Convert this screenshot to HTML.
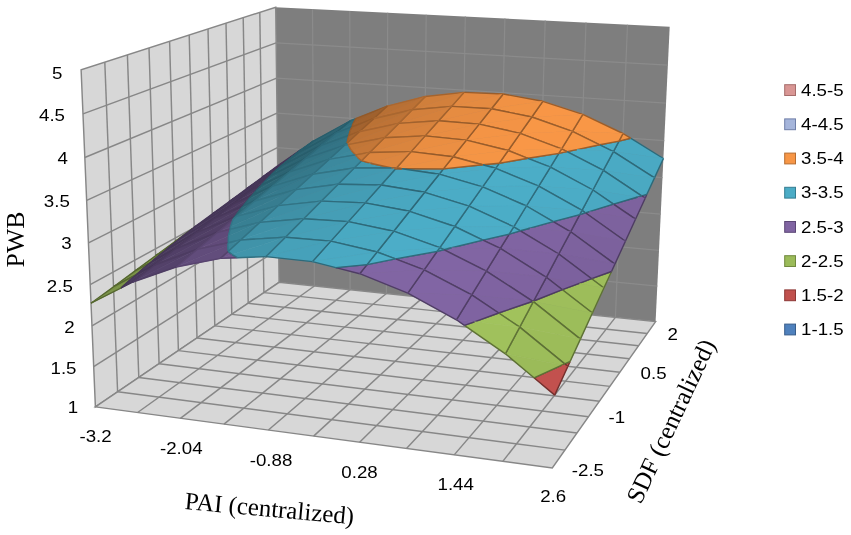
<!DOCTYPE html>
<html lang="en"><head><meta charset="utf-8"><title>PWB response surface</title>
<style>html,body{margin:0;padding:0;background:#fff}body{width:851px;height:535px;overflow:hidden}svg{display:block}</style></head>
<body>
<svg width="851" height="535" viewBox="0 0 851 535">
<rect width="851" height="535" fill="#fff"/>
<g id="backwall">
<polygon points="279.1,282.3 655.6,321.6 669.7,26.8 275.7,7.2" fill="#7e7e7e"/>
<line x1="314.4" y1="286.0" x2="312.5" y2="9.0" stroke="#8b8b8b" stroke-width="1.2"/>
<line x1="350.1" y1="289.7" x2="349.8" y2="10.9" stroke="#8b8b8b" stroke-width="1.2"/>
<line x1="386.4" y1="293.5" x2="387.7" y2="12.8" stroke="#8b8b8b" stroke-width="1.2"/>
<line x1="423.2" y1="297.4" x2="426.2" y2="14.7" stroke="#8b8b8b" stroke-width="1.2"/>
<line x1="460.6" y1="301.3" x2="465.3" y2="16.6" stroke="#8b8b8b" stroke-width="1.2"/>
<line x1="498.4" y1="305.2" x2="504.9" y2="18.6" stroke="#8b8b8b" stroke-width="1.2"/>
<line x1="536.8" y1="309.2" x2="545.2" y2="20.6" stroke="#8b8b8b" stroke-width="1.2"/>
<line x1="575.8" y1="313.3" x2="586.0" y2="22.6" stroke="#8b8b8b" stroke-width="1.2"/>
<line x1="615.4" y1="317.4" x2="627.5" y2="24.7" stroke="#8b8b8b" stroke-width="1.2"/>
<line x1="278.7" y1="249.2" x2="657.3" y2="286.2" stroke="#8b8b8b" stroke-width="1.2"/>
<line x1="278.3" y1="215.7" x2="659.0" y2="250.4" stroke="#8b8b8b" stroke-width="1.2"/>
<line x1="277.8" y1="181.9" x2="660.7" y2="214.2" stroke="#8b8b8b" stroke-width="1.2"/>
<line x1="277.4" y1="147.7" x2="662.5" y2="177.6" stroke="#8b8b8b" stroke-width="1.2"/>
<line x1="277.0" y1="113.1" x2="664.2" y2="140.6" stroke="#8b8b8b" stroke-width="1.2"/>
<line x1="276.6" y1="78.2" x2="666.0" y2="103.1" stroke="#8b8b8b" stroke-width="1.2"/>
<line x1="276.1" y1="42.9" x2="667.9" y2="65.2" stroke="#8b8b8b" stroke-width="1.2"/>
</g>
<g id="leftwall">
<polygon points="95.4,406.9 279.1,282.3 275.7,7.2 81.1,69.8" fill="#d7d7d7" stroke="#878787" stroke-width="1.45"/>
<line x1="117.6" y1="391.8" x2="104.8" y2="62.1" stroke="#878787" stroke-width="1.45"/>
<line x1="138.8" y1="377.5" x2="127.4" y2="54.9" stroke="#878787" stroke-width="1.45"/>
<line x1="159.1" y1="363.7" x2="149.0" y2="47.9" stroke="#878787" stroke-width="1.45"/>
<line x1="178.4" y1="350.6" x2="169.6" y2="41.3" stroke="#878787" stroke-width="1.45"/>
<line x1="197.0" y1="338.0" x2="189.2" y2="35.0" stroke="#878787" stroke-width="1.45"/>
<line x1="214.8" y1="325.9" x2="208.0" y2="29.0" stroke="#878787" stroke-width="1.45"/>
<line x1="231.8" y1="314.4" x2="226.0" y2="23.2" stroke="#878787" stroke-width="1.45"/>
<line x1="248.2" y1="303.3" x2="243.2" y2="17.6" stroke="#878787" stroke-width="1.45"/>
<line x1="263.9" y1="292.6" x2="259.8" y2="12.3" stroke="#878787" stroke-width="1.45"/>
<line x1="93.7" y1="366.7" x2="278.7" y2="249.2" stroke="#878787" stroke-width="1.45"/>
<line x1="92.0" y1="325.9" x2="278.3" y2="215.7" stroke="#878787" stroke-width="1.45"/>
<line x1="90.2" y1="284.6" x2="277.8" y2="181.9" stroke="#878787" stroke-width="1.45"/>
<line x1="88.5" y1="242.8" x2="277.4" y2="147.7" stroke="#878787" stroke-width="1.45"/>
<line x1="86.7" y1="200.4" x2="277.0" y2="113.1" stroke="#878787" stroke-width="1.45"/>
<line x1="84.8" y1="157.5" x2="276.6" y2="78.2" stroke="#878787" stroke-width="1.45"/>
<line x1="83.0" y1="113.9" x2="276.1" y2="42.9" stroke="#878787" stroke-width="1.45"/>
</g>
<g id="floor">
<polygon points="95.4,406.9 279.1,282.3 655.6,321.6 552.3,468.0" fill="#d7d7d7" stroke="#878787" stroke-width="1.45"/>
<line x1="137.6" y1="412.5" x2="314.4" y2="286.0" stroke="#878787" stroke-width="1.45"/>
<line x1="117.6" y1="391.8" x2="565.0" y2="450.1" stroke="#878787" stroke-width="1.45"/>
<line x1="180.4" y1="418.3" x2="350.1" y2="289.7" stroke="#878787" stroke-width="1.45"/>
<line x1="138.8" y1="377.5" x2="577.0" y2="433.0" stroke="#878787" stroke-width="1.45"/>
<line x1="224.0" y1="424.1" x2="386.4" y2="293.5" stroke="#878787" stroke-width="1.45"/>
<line x1="159.1" y1="363.7" x2="588.5" y2="416.7" stroke="#878787" stroke-width="1.45"/>
<line x1="268.4" y1="430.0" x2="423.2" y2="297.4" stroke="#878787" stroke-width="1.45"/>
<line x1="178.4" y1="350.6" x2="599.4" y2="401.2" stroke="#878787" stroke-width="1.45"/>
<line x1="313.6" y1="436.1" x2="460.6" y2="301.3" stroke="#878787" stroke-width="1.45"/>
<line x1="197.0" y1="338.0" x2="609.9" y2="386.4" stroke="#878787" stroke-width="1.45"/>
<line x1="359.6" y1="442.2" x2="498.4" y2="305.2" stroke="#878787" stroke-width="1.45"/>
<line x1="214.8" y1="325.9" x2="619.8" y2="372.3" stroke="#878787" stroke-width="1.45"/>
<line x1="406.5" y1="448.5" x2="536.8" y2="309.2" stroke="#878787" stroke-width="1.45"/>
<line x1="231.8" y1="314.4" x2="629.4" y2="358.8" stroke="#878787" stroke-width="1.45"/>
<line x1="454.2" y1="454.9" x2="575.8" y2="313.3" stroke="#878787" stroke-width="1.45"/>
<line x1="248.2" y1="303.3" x2="638.5" y2="345.8" stroke="#878787" stroke-width="1.45"/>
<line x1="502.8" y1="461.4" x2="615.4" y2="317.4" stroke="#878787" stroke-width="1.45"/>
<line x1="263.9" y1="292.6" x2="647.2" y2="333.5" stroke="#878787" stroke-width="1.45"/>
</g>
<g id="surface" stroke-linejoin="round">
<polygon points="262.2,177.3 297.9,152.0 301.1,149.5 277.6,165.9" fill="#4a3a5e" stroke="#4a3a5e" stroke-width="0.6"/>
<line x1="297.9" y1="152.0" x2="301.1" y2="149.5" stroke="#453657" stroke-width="1.4"/>
<line x1="301.1" y1="149.5" x2="277.6" y2="165.9" stroke="#453657" stroke-width="1.4"/>
<line x1="277.6" y1="165.9" x2="262.2" y2="177.3" stroke="#453657" stroke-width="1.4"/>
<polygon points="297.9,152.0 313.4,141.0 301.1,149.5" fill="#2c6473" stroke="#2c6473" stroke-width="0.6"/>
<line x1="313.4" y1="141.0" x2="301.1" y2="149.5" stroke="#285d6b" stroke-width="1.4"/>
<line x1="301.1" y1="149.5" x2="297.9" y2="152.0" stroke="#285d6b" stroke-width="1.4"/>
<polygon points="262.2,177.3 290.9,157.8 297.9,152.0" fill="#4a3a5e" stroke="#4a3a5e" stroke-width="0.6"/>
<line x1="262.2" y1="177.3" x2="290.9" y2="157.8" stroke="#453657" stroke-width="1.4"/>
<line x1="290.9" y1="157.8" x2="297.9" y2="152.0" stroke="#453657" stroke-width="1.4"/>
<polygon points="290.9,157.8 298.5,152.7 313.4,141.0 297.9,152.0" fill="#2c6473" stroke="#2c6473" stroke-width="0.6"/>
<line x1="290.9" y1="157.8" x2="298.5" y2="152.7" stroke="#285d6b" stroke-width="1.4"/>
<line x1="298.5" y1="152.7" x2="313.4" y2="141.0" stroke="#285d6b" stroke-width="1.4"/>
<line x1="297.9" y1="152.0" x2="290.9" y2="157.8" stroke="#285d6b" stroke-width="1.4"/>
<polygon points="298.5,152.7 350.0,121.0 313.4,141.0" fill="#2c6473" stroke="#2c6473" stroke-width="0.6"/>
<line x1="350.0" y1="121.0" x2="313.4" y2="141.0" stroke="#285d6b" stroke-width="1.4"/>
<line x1="313.4" y1="141.0" x2="298.5" y2="152.7" stroke="#285d6b" stroke-width="1.4"/>
<polygon points="246.2,189.1 288.9,159.4 290.9,157.8 262.2,177.3" fill="#4a3a5e" stroke="#4a3a5e" stroke-width="0.6"/>
<line x1="288.9" y1="159.4" x2="290.9" y2="157.8" stroke="#453657" stroke-width="1.4"/>
<line x1="290.9" y1="157.8" x2="262.2" y2="177.3" stroke="#453657" stroke-width="1.4"/>
<line x1="262.2" y1="177.3" x2="246.2" y2="189.1" stroke="#453657" stroke-width="1.4"/>
<polygon points="288.9,159.4 298.5,152.7 290.9,157.8" fill="#2c6473" stroke="#2c6473" stroke-width="0.6"/>
<line x1="298.5" y1="152.7" x2="290.9" y2="157.8" stroke="#285d6b" stroke-width="1.4"/>
<line x1="290.9" y1="157.8" x2="288.9" y2="159.4" stroke="#285d6b" stroke-width="1.4"/>
<polygon points="335.6,133.1 352.8,124.1 355.7,118.7 350.0,121.0" fill="#306e7e" stroke="#306e7e" stroke-width="0.6"/>
<line x1="352.8" y1="124.1" x2="355.7" y2="118.7" stroke="#2c6675" stroke-width="1.4"/>
<line x1="355.7" y1="118.7" x2="350.0" y2="121.0" stroke="#2c6675" stroke-width="1.4"/>
<line x1="350.0" y1="121.0" x2="335.6" y2="133.1" stroke="#2c6675" stroke-width="1.4"/>
<polygon points="352.8,124.1 387.3,106.1 355.7,118.7" fill="#9d602d" stroke="#9d602d" stroke-width="0.6"/>
<line x1="387.3" y1="106.1" x2="355.7" y2="118.7" stroke="#925929" stroke-width="1.4"/>
<line x1="355.7" y1="118.7" x2="352.8" y2="124.1" stroke="#925929" stroke-width="1.4"/>
<polygon points="298.5,152.7 335.6,133.1 350.0,121.0" fill="#2c6473" stroke="#2c6473" stroke-width="0.6"/>
<line x1="298.5" y1="152.7" x2="335.6" y2="133.1" stroke="#285d6b" stroke-width="1.4"/>
<line x1="335.6" y1="133.1" x2="350.0" y2="121.0" stroke="#285d6b" stroke-width="1.4"/>
<polygon points="373.6,118.7 425.3,96.5 387.3,106.1" fill="#b87034" stroke="#b87034" stroke-width="0.6"/>
<line x1="425.3" y1="96.5" x2="387.3" y2="106.1" stroke="#aa6730" stroke-width="1.4"/>
<line x1="387.3" y1="106.1" x2="373.6" y2="118.7" stroke="#aa6730" stroke-width="1.4"/>
<polygon points="246.2,189.1 280.5,166.4 288.9,159.4" fill="#4a3a5e" stroke="#4a3a5e" stroke-width="0.6"/>
<line x1="246.2" y1="189.1" x2="280.5" y2="166.4" stroke="#453657" stroke-width="1.4"/>
<line x1="280.5" y1="166.4" x2="288.9" y2="159.4" stroke="#453657" stroke-width="1.4"/>
<polygon points="280.5,166.4 283.0,164.8 298.5,152.7 288.9,159.4" fill="#2c6473" stroke="#2c6473" stroke-width="0.6"/>
<line x1="280.5" y1="166.4" x2="283.0" y2="164.8" stroke="#285d6b" stroke-width="1.4"/>
<line x1="283.0" y1="164.8" x2="298.5" y2="152.7" stroke="#285d6b" stroke-width="1.4"/>
<line x1="288.9" y1="159.4" x2="280.5" y2="166.4" stroke="#285d6b" stroke-width="1.4"/>
<polygon points="335.6,133.1 352.0,126.9 352.8,124.1" fill="#317081" stroke="#317081" stroke-width="0.6"/>
<line x1="335.6" y1="133.1" x2="352.0" y2="126.9" stroke="#2d6878" stroke-width="1.4"/>
<line x1="352.0" y1="126.9" x2="352.8" y2="124.1" stroke="#2d6878" stroke-width="1.4"/>
<polygon points="352.0,126.9 373.6,118.7 387.3,106.1 352.8,124.1" fill="#a0612d" stroke="#a0612d" stroke-width="0.6"/>
<line x1="352.0" y1="126.9" x2="373.6" y2="118.7" stroke="#955b2a" stroke-width="1.4"/>
<line x1="373.6" y1="118.7" x2="387.3" y2="106.1" stroke="#955b2a" stroke-width="1.4"/>
<line x1="352.8" y1="124.1" x2="352.0" y2="126.9" stroke="#955b2a" stroke-width="1.4"/>
<polygon points="283.0,164.8 335.6,133.1 298.5,152.7" fill="#2c6473" stroke="#2c6473" stroke-width="0.6"/>
<line x1="335.6" y1="133.1" x2="298.5" y2="152.7" stroke="#285d6b" stroke-width="1.4"/>
<line x1="298.5" y1="152.7" x2="283.0" y2="164.8" stroke="#285d6b" stroke-width="1.4"/>
<polygon points="412.2,109.7 464.0,92.4 425.3,96.5" fill="#d07f3b" stroke="#d07f3b" stroke-width="0.6"/>
<line x1="464.0" y1="92.4" x2="425.3" y2="96.5" stroke="#a3632e" stroke-width="1.4"/>
<line x1="425.3" y1="96.5" x2="412.2" y2="109.7" stroke="#a3632e" stroke-width="1.4"/>
<polygon points="229.6,201.3 279.8,167.0 280.5,166.4 246.2,189.1" fill="#4a3a5e" stroke="#4a3a5e" stroke-width="0.6"/>
<line x1="279.8" y1="167.0" x2="280.5" y2="166.4" stroke="#453657" stroke-width="1.4"/>
<line x1="280.5" y1="166.4" x2="246.2" y2="189.1" stroke="#453657" stroke-width="1.4"/>
<line x1="246.2" y1="189.1" x2="229.6" y2="201.3" stroke="#453657" stroke-width="1.4"/>
<polygon points="279.8,167.0 283.0,164.8 280.5,166.4" fill="#2c6473" stroke="#2c6473" stroke-width="0.6"/>
<line x1="283.0" y1="164.8" x2="280.5" y2="166.4" stroke="#285d6b" stroke-width="1.4"/>
<line x1="280.5" y1="166.4" x2="279.8" y2="167.0" stroke="#285d6b" stroke-width="1.4"/>
<polygon points="373.6,118.7 412.2,109.7 425.3,96.5" fill="#bb7135" stroke="#bb7135" stroke-width="0.6"/>
<line x1="373.6" y1="118.7" x2="412.2" y2="109.7" stroke="#a96730" stroke-width="1.4"/>
<line x1="412.2" y1="109.7" x2="425.3" y2="96.5" stroke="#a96730" stroke-width="1.4"/>
<polygon points="283.0,164.8 320.8,145.6 335.6,133.1" fill="#2c6473" stroke="#2c6473" stroke-width="0.6"/>
<line x1="283.0" y1="164.8" x2="320.8" y2="145.6" stroke="#285d6b" stroke-width="1.4"/>
<line x1="320.8" y1="145.6" x2="335.6" y2="133.1" stroke="#285d6b" stroke-width="1.4"/>
<polygon points="320.8,145.6 350.2,130.6 352.0,126.9 335.6,133.1" fill="#317081" stroke="#317081" stroke-width="0.6"/>
<line x1="350.2" y1="130.6" x2="352.0" y2="126.9" stroke="#2d6878" stroke-width="1.4"/>
<line x1="352.0" y1="126.9" x2="335.6" y2="133.1" stroke="#2d6878" stroke-width="1.4"/>
<line x1="335.6" y1="133.1" x2="320.8" y2="145.6" stroke="#2d6878" stroke-width="1.4"/>
<polygon points="350.2,130.6 373.6,118.7 352.0,126.9" fill="#a1622e" stroke="#a1622e" stroke-width="0.6"/>
<line x1="373.6" y1="118.7" x2="352.0" y2="126.9" stroke="#955b2a" stroke-width="1.4"/>
<line x1="352.0" y1="126.9" x2="350.2" y2="130.6" stroke="#955b2a" stroke-width="1.4"/>
<polygon points="451.6,106.4 503.2,94.0 464.0,92.4" fill="#e48a41" stroke="#e48a41" stroke-width="0.6"/>
<line x1="503.2" y1="94.0" x2="464.0" y2="92.4" stroke="#995d2b" stroke-width="1.4"/>
<line x1="464.0" y1="92.4" x2="451.6" y2="106.4" stroke="#995d2b" stroke-width="1.4"/>
<polygon points="412.2,109.7 451.6,106.4 464.0,92.4" fill="#d2803c" stroke="#d2803c" stroke-width="0.6"/>
<line x1="412.2" y1="109.7" x2="451.6" y2="106.4" stroke="#a3632e" stroke-width="1.4"/>
<line x1="451.6" y1="106.4" x2="464.0" y2="92.4" stroke="#a3632e" stroke-width="1.4"/>
<polygon points="229.6,201.3 266.9,177.3 275.4,170.7 279.8,167.0" fill="#4a3a5e" stroke="#4a3a5e" stroke-width="0.6"/>
<line x1="229.6" y1="201.3" x2="266.9" y2="177.3" stroke="#453657" stroke-width="1.4"/>
<line x1="266.9" y1="177.3" x2="275.4" y2="170.7" stroke="#453657" stroke-width="1.4"/>
<line x1="275.4" y1="170.7" x2="279.8" y2="167.0" stroke="#453657" stroke-width="1.4"/>
<polygon points="275.4,170.7 283.0,164.8 279.8,167.0" fill="#2c6473" stroke="#2c6473" stroke-width="0.6"/>
<line x1="275.4" y1="170.7" x2="283.0" y2="164.8" stroke="#285d6b" stroke-width="1.4"/>
<line x1="279.8" y1="167.0" x2="275.4" y2="170.7" stroke="#285d6b" stroke-width="1.4"/>
<polygon points="359.3,131.7 412.2,109.7 373.6,118.7" fill="#bb7235" stroke="#bb7235" stroke-width="0.6"/>
<line x1="412.2" y1="109.7" x2="373.6" y2="118.7" stroke="#a96730" stroke-width="1.4"/>
<line x1="373.6" y1="118.7" x2="359.3" y2="131.7" stroke="#a96730" stroke-width="1.4"/>
<polygon points="491.4,108.7 542.8,101.3 503.2,94.0" fill="#f19244" stroke="#f19244" stroke-width="0.6"/>
<line x1="542.8" y1="101.3" x2="503.2" y2="94.0" stroke="#955b2a" stroke-width="1.4"/>
<line x1="503.2" y1="94.0" x2="491.4" y2="108.7" stroke="#955b2a" stroke-width="1.4"/>
<polygon points="266.9,177.3 271.2,174.8 275.4,170.7" fill="#4a3a5e" stroke="#4a3a5e" stroke-width="0.6"/>
<line x1="271.2" y1="174.8" x2="275.4" y2="170.7" stroke="#453657" stroke-width="1.4"/>
<line x1="275.4" y1="170.7" x2="266.9" y2="177.3" stroke="#453657" stroke-width="1.4"/>
<polygon points="271.2,174.8 320.8,145.6 283.0,164.8 275.4,170.7" fill="#2c6473" stroke="#2c6473" stroke-width="0.6"/>
<line x1="320.8" y1="145.6" x2="283.0" y2="164.8" stroke="#285d6b" stroke-width="1.4"/>
<line x1="283.0" y1="164.8" x2="275.4" y2="170.7" stroke="#285d6b" stroke-width="1.4"/>
<line x1="275.4" y1="170.7" x2="271.2" y2="174.8" stroke="#285d6b" stroke-width="1.4"/>
<polygon points="320.8,145.6 348.9,135.4 350.2,130.6" fill="#327283" stroke="#327283" stroke-width="0.6"/>
<line x1="320.8" y1="145.6" x2="348.9" y2="135.4" stroke="#2e6a7a" stroke-width="1.4"/>
<line x1="348.9" y1="135.4" x2="350.2" y2="130.6" stroke="#2e6a7a" stroke-width="1.4"/>
<polygon points="348.9,135.4 359.3,131.7 373.6,118.7 350.2,130.6" fill="#a4632e" stroke="#a4632e" stroke-width="0.6"/>
<line x1="348.9" y1="135.4" x2="359.3" y2="131.7" stroke="#985c2b" stroke-width="1.4"/>
<line x1="359.3" y1="131.7" x2="373.6" y2="118.7" stroke="#985c2b" stroke-width="1.4"/>
<line x1="350.2" y1="130.6" x2="348.9" y2="135.4" stroke="#985c2b" stroke-width="1.4"/>
<polygon points="451.6,106.4 491.4,108.7 503.2,94.0" fill="#e58b41" stroke="#e58b41" stroke-width="0.6"/>
<line x1="451.6" y1="106.4" x2="491.4" y2="108.7" stroke="#995d2b" stroke-width="1.4"/>
<line x1="491.4" y1="108.7" x2="503.2" y2="94.0" stroke="#995d2b" stroke-width="1.4"/>
<polygon points="531.8,117.0 582.8,114.4 542.8,101.3" fill="#f89646" stroke="#f89646" stroke-width="0.6"/>
<line x1="582.8" y1="114.4" x2="542.8" y2="101.3" stroke="#9a5d2c" stroke-width="1.4"/>
<line x1="542.8" y1="101.3" x2="531.8" y2="117.0" stroke="#9a5d2c" stroke-width="1.4"/>
<polygon points="398.6,123.4 451.6,106.4 412.2,109.7" fill="#d3803c" stroke="#d3803c" stroke-width="0.6"/>
<line x1="451.6" y1="106.4" x2="412.2" y2="109.7" stroke="#a2632e" stroke-width="1.4"/>
<line x1="412.2" y1="109.7" x2="398.6" y2="123.4" stroke="#a2632e" stroke-width="1.4"/>
<polygon points="212.2,214.1 266.9,177.3 229.6,201.3" fill="#4a3a5e" stroke="#4a3a5e" stroke-width="0.6"/>
<line x1="266.9" y1="177.3" x2="229.6" y2="201.3" stroke="#453657" stroke-width="1.4"/>
<line x1="229.6" y1="201.3" x2="212.2" y2="214.1" stroke="#453657" stroke-width="1.4"/>
<polygon points="572.4,131.3 623.0,133.5 582.8,114.4" fill="#f99746" stroke="#f99746" stroke-width="0.6"/>
<line x1="623.0" y1="133.5" x2="582.8" y2="114.4" stroke="#9a5e2c" stroke-width="1.4"/>
<line x1="582.8" y1="114.4" x2="572.4" y2="131.3" stroke="#9a5e2c" stroke-width="1.4"/>
<polygon points="491.4,108.7 531.8,117.0 542.8,101.3" fill="#f19344" stroke="#f19344" stroke-width="0.6"/>
<line x1="491.4" y1="108.7" x2="531.8" y2="117.0" stroke="#965b2a" stroke-width="1.4"/>
<line x1="531.8" y1="117.0" x2="542.8" y2="101.3" stroke="#965b2a" stroke-width="1.4"/>
<polygon points="359.3,131.7 398.6,123.4 412.2,109.7" fill="#be7336" stroke="#be7336" stroke-width="0.6"/>
<line x1="359.3" y1="131.7" x2="398.6" y2="123.4" stroke="#a96730" stroke-width="1.4"/>
<line x1="398.6" y1="123.4" x2="412.2" y2="109.7" stroke="#a96730" stroke-width="1.4"/>
<polygon points="266.9,177.3 270.6,175.6 271.2,174.8" fill="#4a3a5e" stroke="#4a3a5e" stroke-width="0.6"/>
<line x1="266.9" y1="177.3" x2="270.6" y2="175.6" stroke="#453657" stroke-width="1.4"/>
<line x1="270.6" y1="175.6" x2="271.2" y2="174.8" stroke="#453657" stroke-width="1.4"/>
<polygon points="270.6,175.6 305.3,158.6 320.8,145.6 271.2,174.8" fill="#2c6473" stroke="#2c6473" stroke-width="0.6"/>
<line x1="270.6" y1="175.6" x2="305.3" y2="158.6" stroke="#285d6b" stroke-width="1.4"/>
<line x1="305.3" y1="158.6" x2="320.8" y2="145.6" stroke="#285d6b" stroke-width="1.4"/>
<line x1="271.2" y1="174.8" x2="270.6" y2="175.6" stroke="#285d6b" stroke-width="1.4"/>
<polygon points="305.3,158.6 348.2,137.3 348.9,135.4 320.8,145.6" fill="#327284" stroke="#327284" stroke-width="0.6"/>
<line x1="348.2" y1="137.3" x2="348.9" y2="135.4" stroke="#2e6a7a" stroke-width="1.4"/>
<line x1="348.9" y1="135.4" x2="320.8" y2="145.6" stroke="#2e6a7a" stroke-width="1.4"/>
<line x1="320.8" y1="145.6" x2="305.3" y2="158.6" stroke="#2e6a7a" stroke-width="1.4"/>
<polygon points="348.2,137.3 359.3,131.7 348.9,135.4" fill="#a4642f" stroke="#a4642f" stroke-width="0.6"/>
<line x1="359.3" y1="131.7" x2="348.9" y2="135.4" stroke="#995d2b" stroke-width="1.4"/>
<line x1="348.9" y1="135.4" x2="348.2" y2="137.3" stroke="#995d2b" stroke-width="1.4"/>
<polygon points="613.4,151.6 663.4,158.5 630.6,138.2 619.0,141.1" fill="#4aaac4" stroke="#4aaac4" stroke-width="0.6"/>
<line x1="663.4" y1="158.5" x2="630.6" y2="138.2" stroke="#2e6a7a" stroke-width="1.4"/>
<line x1="630.6" y1="138.2" x2="619.0" y2="141.1" stroke="#2e6a7a" stroke-width="1.4"/>
<line x1="619.0" y1="141.1" x2="613.4" y2="151.6" stroke="#2e6a7a" stroke-width="1.4"/>
<polygon points="630.6,138.2 623.0,133.5 619.0,141.1" fill="#f59545" stroke="#f59545" stroke-width="0.6"/>
<line x1="630.6" y1="138.2" x2="623.0" y2="133.5" stroke="#985c2b" stroke-width="1.4"/>
<line x1="623.0" y1="133.5" x2="619.0" y2="141.1" stroke="#985c2b" stroke-width="1.4"/>
<line x1="619.0" y1="141.1" x2="630.6" y2="138.2" stroke="#985c2b" stroke-width="1.4"/>
<polygon points="531.8,117.0 572.4,131.3 582.8,114.4" fill="#f79646" stroke="#f79646" stroke-width="0.6"/>
<line x1="531.8" y1="117.0" x2="572.4" y2="131.3" stroke="#995d2b" stroke-width="1.4"/>
<line x1="572.4" y1="131.3" x2="582.8" y2="114.4" stroke="#995d2b" stroke-width="1.4"/>
<polygon points="438.6,120.8 491.4,108.7 451.6,106.4" fill="#e68c41" stroke="#e68c41" stroke-width="0.6"/>
<line x1="491.4" y1="108.7" x2="451.6" y2="106.4" stroke="#985c2b" stroke-width="1.4"/>
<line x1="451.6" y1="106.4" x2="438.6" y2="120.8" stroke="#985c2b" stroke-width="1.4"/>
<polygon points="599.8,144.8 613.4,151.6 619.0,141.1" fill="#4bacc6" stroke="#4bacc6" stroke-width="0.6"/>
<line x1="599.8" y1="144.8" x2="613.4" y2="151.6" stroke="#2f6b7b" stroke-width="1.4"/>
<line x1="613.4" y1="151.6" x2="619.0" y2="141.1" stroke="#2f6b7b" stroke-width="1.4"/>
<line x1="619.0" y1="141.1" x2="599.8" y2="144.8" stroke="#2f6b7b" stroke-width="1.4"/>
<polygon points="572.4,131.3 599.8,144.8 619.0,141.1 623.0,133.5" fill="#f79646" stroke="#f79646" stroke-width="0.6"/>
<line x1="572.4" y1="131.3" x2="599.8" y2="144.8" stroke="#995d2b" stroke-width="1.4"/>
<line x1="599.8" y1="144.8" x2="619.0" y2="141.1" stroke="#995d2b" stroke-width="1.4"/>
<line x1="619.0" y1="141.1" x2="623.0" y2="133.5" stroke="#995d2b" stroke-width="1.4"/>
<polygon points="398.6,123.4 438.6,120.8 451.6,106.4" fill="#d5813c" stroke="#d5813c" stroke-width="0.6"/>
<line x1="398.6" y1="123.4" x2="438.6" y2="120.8" stroke="#a1622e" stroke-width="1.4"/>
<line x1="438.6" y1="120.8" x2="451.6" y2="106.4" stroke="#a1622e" stroke-width="1.4"/>
<polygon points="613.4,151.6 654.5,177.9 663.4,158.5" fill="#4aa9c3" stroke="#4aa9c3" stroke-width="0.6"/>
<line x1="613.4" y1="151.6" x2="654.5" y2="177.9" stroke="#2e6979" stroke-width="1.4"/>
<line x1="654.5" y1="177.9" x2="663.4" y2="158.5" stroke="#2e6979" stroke-width="1.4"/>
<polygon points="212.2,214.1 250.2,190.4 266.9,177.3" fill="#4a3a5e" stroke="#4a3a5e" stroke-width="0.6"/>
<line x1="212.2" y1="214.1" x2="250.2" y2="190.4" stroke="#453657" stroke-width="1.4"/>
<line x1="250.2" y1="190.4" x2="266.9" y2="177.3" stroke="#453657" stroke-width="1.4"/>
<polygon points="344.4,145.3 347.6,144.0 347.1,142.9" fill="#3a8599" stroke="#3a8599" stroke-width="0.6"/>
<line x1="347.6" y1="144.0" x2="347.1" y2="142.9" stroke="#337687" stroke-width="1.4"/>
<line x1="347.1" y1="142.9" x2="344.4" y2="145.3" stroke="#337687" stroke-width="1.4"/>
<polygon points="347.6,144.0 398.6,123.4 359.3,131.7 347.1,142.9" fill="#bf7436" stroke="#bf7436" stroke-width="0.6"/>
<line x1="398.6" y1="123.4" x2="359.3" y2="131.7" stroke="#a96630" stroke-width="1.4"/>
<line x1="359.3" y1="131.7" x2="347.1" y2="142.9" stroke="#a96630" stroke-width="1.4"/>
<line x1="347.1" y1="142.9" x2="347.6" y2="144.0" stroke="#a96630" stroke-width="1.4"/>
<polygon points="250.2,190.4 263.4,182.8 270.6,175.6 266.9,177.3" fill="#4a3a5e" stroke="#4a3a5e" stroke-width="0.6"/>
<line x1="263.4" y1="182.8" x2="270.6" y2="175.6" stroke="#453657" stroke-width="1.4"/>
<line x1="270.6" y1="175.6" x2="266.9" y2="177.3" stroke="#453657" stroke-width="1.4"/>
<line x1="266.9" y1="177.3" x2="250.2" y2="190.4" stroke="#453657" stroke-width="1.4"/>
<polygon points="263.4,182.8 305.3,158.6 270.6,175.6" fill="#2c6473" stroke="#2c6473" stroke-width="0.6"/>
<line x1="305.3" y1="158.6" x2="270.6" y2="175.6" stroke="#285d6b" stroke-width="1.4"/>
<line x1="270.6" y1="175.6" x2="263.4" y2="182.8" stroke="#285d6b" stroke-width="1.4"/>
<polygon points="305.3,158.6 344.4,145.3 347.1,142.9 348.2,137.3" fill="#337486" stroke="#337486" stroke-width="0.6"/>
<line x1="305.3" y1="158.6" x2="344.4" y2="145.3" stroke="#2f6c7c" stroke-width="1.4"/>
<line x1="344.4" y1="145.3" x2="347.1" y2="142.9" stroke="#2f6c7c" stroke-width="1.4"/>
<line x1="347.1" y1="142.9" x2="348.2" y2="137.3" stroke="#2f6c7c" stroke-width="1.4"/>
<polygon points="347.1,142.9 359.3,131.7 348.2,137.3" fill="#a7652f" stroke="#a7652f" stroke-width="0.6"/>
<line x1="347.1" y1="142.9" x2="359.3" y2="131.7" stroke="#9b5e2c" stroke-width="1.4"/>
<line x1="348.2" y1="137.3" x2="347.1" y2="142.9" stroke="#9b5e2c" stroke-width="1.4"/>
<polygon points="479.2,124.1 531.8,117.0 491.4,108.7" fill="#f29345" stroke="#f29345" stroke-width="0.6"/>
<line x1="531.8" y1="117.0" x2="491.4" y2="108.7" stroke="#965b2b" stroke-width="1.4"/>
<line x1="491.4" y1="108.7" x2="479.2" y2="124.1" stroke="#965b2b" stroke-width="1.4"/>
<polygon points="438.6,120.8 479.2,124.1 491.4,108.7" fill="#e78c41" stroke="#e78c41" stroke-width="0.6"/>
<line x1="438.6" y1="120.8" x2="479.2" y2="124.1" stroke="#975c2b" stroke-width="1.4"/>
<line x1="479.2" y1="124.1" x2="491.4" y2="108.7" stroke="#975c2b" stroke-width="1.4"/>
<polygon points="520.2,133.4 572.4,131.3 531.8,117.0" fill="#f89746" stroke="#f89746" stroke-width="0.6"/>
<line x1="572.4" y1="131.3" x2="531.8" y2="117.0" stroke="#9a5e2c" stroke-width="1.4"/>
<line x1="531.8" y1="117.0" x2="520.2" y2="133.4" stroke="#9a5e2c" stroke-width="1.4"/>
<polygon points="194.1,227.4 250.2,190.4 212.2,214.1" fill="#4a3a5e" stroke="#4a3a5e" stroke-width="0.6"/>
<line x1="250.2" y1="190.4" x2="212.2" y2="214.1" stroke="#453657" stroke-width="1.4"/>
<line x1="212.2" y1="214.1" x2="194.1" y2="227.4" stroke="#453657" stroke-width="1.4"/>
<polygon points="384.4,137.7 438.6,120.8 398.6,123.4" fill="#d6823d" stroke="#d6823d" stroke-width="0.6"/>
<line x1="438.6" y1="120.8" x2="398.6" y2="123.4" stroke="#a1622e" stroke-width="1.4"/>
<line x1="398.6" y1="123.4" x2="384.4" y2="137.7" stroke="#a1622e" stroke-width="1.4"/>
<polygon points="576.8,149.6 613.4,151.6 599.8,144.8" fill="#4badc7" stroke="#4badc7" stroke-width="0.6"/>
<line x1="613.4" y1="151.6" x2="599.8" y2="144.8" stroke="#2f6b7b" stroke-width="1.4"/>
<line x1="599.8" y1="144.8" x2="576.8" y2="149.6" stroke="#2f6b7b" stroke-width="1.4"/>
<polygon points="561.6,148.8 576.8,149.6 599.8,144.8 572.4,131.3" fill="#f89746" stroke="#f89746" stroke-width="0.6"/>
<line x1="576.8" y1="149.6" x2="599.8" y2="144.8" stroke="#9a5e2c" stroke-width="1.4"/>
<line x1="599.8" y1="144.8" x2="572.4" y2="131.3" stroke="#9a5e2c" stroke-width="1.4"/>
<line x1="572.4" y1="131.3" x2="561.6" y2="148.8" stroke="#9a5e2c" stroke-width="1.4"/>
<polygon points="479.2,124.1 520.2,133.4 531.8,117.0" fill="#f39345" stroke="#f39345" stroke-width="0.6"/>
<line x1="479.2" y1="124.1" x2="520.2" y2="133.4" stroke="#965b2b" stroke-width="1.4"/>
<line x1="520.2" y1="133.4" x2="531.8" y2="117.0" stroke="#965b2b" stroke-width="1.4"/>
<polygon points="344.4,145.3 348.1,144.6 347.6,144.0" fill="#3b869b" stroke="#3b869b" stroke-width="0.6"/>
<line x1="344.4" y1="145.3" x2="348.1" y2="144.6" stroke="#337587" stroke-width="1.4"/>
<line x1="348.1" y1="144.6" x2="347.6" y2="144.0" stroke="#337587" stroke-width="1.4"/>
<polygon points="348.1,144.6 384.4,137.7 398.6,123.4 347.6,144.0" fill="#c17537" stroke="#c17537" stroke-width="0.6"/>
<line x1="348.1" y1="144.6" x2="384.4" y2="137.7" stroke="#a86630" stroke-width="1.4"/>
<line x1="384.4" y1="137.7" x2="398.6" y2="123.4" stroke="#a86630" stroke-width="1.4"/>
<line x1="347.6" y1="144.0" x2="348.1" y2="144.6" stroke="#a86630" stroke-width="1.4"/>
<polygon points="250.2,190.4 261.4,185.2 263.4,182.8" fill="#4a3a5e" stroke="#4a3a5e" stroke-width="0.6"/>
<line x1="250.2" y1="190.4" x2="261.4" y2="185.2" stroke="#453657" stroke-width="1.4"/>
<line x1="261.4" y1="185.2" x2="263.4" y2="182.8" stroke="#453657" stroke-width="1.4"/>
<polygon points="261.4,185.2 289.1,172.1 305.3,158.6 263.4,182.8" fill="#2c6473" stroke="#2c6473" stroke-width="0.6"/>
<line x1="261.4" y1="185.2" x2="289.1" y2="172.1" stroke="#285d6b" stroke-width="1.4"/>
<line x1="289.1" y1="172.1" x2="305.3" y2="158.6" stroke="#285d6b" stroke-width="1.4"/>
<line x1="263.4" y1="182.8" x2="261.4" y2="185.2" stroke="#285d6b" stroke-width="1.4"/>
<polygon points="289.1,172.1 344.4,145.3 305.3,158.6" fill="#337586" stroke="#337586" stroke-width="0.6"/>
<line x1="344.4" y1="145.3" x2="305.3" y2="158.6" stroke="#2f6c7d" stroke-width="1.4"/>
<line x1="305.3" y1="158.6" x2="289.1" y2="172.1" stroke="#2f6c7d" stroke-width="1.4"/>
<polygon points="603.3,170.4 654.5,177.9 613.4,151.6" fill="#4aaac4" stroke="#4aaac4" stroke-width="0.6"/>
<line x1="654.5" y1="177.9" x2="613.4" y2="151.6" stroke="#2e6979" stroke-width="1.4"/>
<line x1="613.4" y1="151.6" x2="603.3" y2="170.4" stroke="#2e6979" stroke-width="1.4"/>
<polygon points="520.2,133.4 561.6,148.8 572.4,131.3" fill="#f89646" stroke="#f89646" stroke-width="0.6"/>
<line x1="520.2" y1="133.4" x2="561.6" y2="148.8" stroke="#9a5d2c" stroke-width="1.4"/>
<line x1="561.6" y1="148.8" x2="572.4" y2="131.3" stroke="#9a5d2c" stroke-width="1.4"/>
<polygon points="425.1,135.9 479.2,124.1 438.6,120.8" fill="#e88d42" stroke="#e88d42" stroke-width="0.6"/>
<line x1="479.2" y1="124.1" x2="438.6" y2="120.8" stroke="#975c2b" stroke-width="1.4"/>
<line x1="438.6" y1="120.8" x2="425.1" y2="135.9" stroke="#975c2b" stroke-width="1.4"/>
<polygon points="567.0,151.6 603.3,170.4 613.4,151.6 576.8,149.6" fill="#4bacc6" stroke="#4bacc6" stroke-width="0.6"/>
<line x1="567.0" y1="151.6" x2="603.3" y2="170.4" stroke="#2f6b7b" stroke-width="1.4"/>
<line x1="603.3" y1="170.4" x2="613.4" y2="151.6" stroke="#2f6b7b" stroke-width="1.4"/>
<line x1="576.8" y1="149.6" x2="567.0" y2="151.6" stroke="#2f6b7b" stroke-width="1.4"/>
<polygon points="561.6,148.8 567.0,151.6 576.8,149.6" fill="#f79646" stroke="#f79646" stroke-width="0.6"/>
<line x1="561.6" y1="148.8" x2="567.0" y2="151.6" stroke="#995d2b" stroke-width="1.4"/>
<line x1="567.0" y1="151.6" x2="576.8" y2="149.6" stroke="#995d2b" stroke-width="1.4"/>
<polygon points="384.4,137.7 425.1,135.9 438.6,120.8" fill="#d8833d" stroke="#d8833d" stroke-width="0.6"/>
<line x1="384.4" y1="137.7" x2="425.1" y2="135.9" stroke="#a0612d" stroke-width="1.4"/>
<line x1="425.1" y1="135.9" x2="438.6" y2="120.8" stroke="#a0612d" stroke-width="1.4"/>
<polygon points="194.1,227.4 232.7,204.1 250.2,190.4" fill="#4a3a5e" stroke="#4a3a5e" stroke-width="0.6"/>
<line x1="194.1" y1="227.4" x2="232.7" y2="204.1" stroke="#453657" stroke-width="1.4"/>
<line x1="232.7" y1="204.1" x2="250.2" y2="190.4" stroke="#453657" stroke-width="1.4"/>
<polygon points="641.6,195.8 645.2,198.2 646.9,194.3" fill="#7e629f" stroke="#7e629f" stroke-width="0.6"/>
<line x1="641.6" y1="195.8" x2="645.2" y2="198.2" stroke="#4e3d63" stroke-width="1.4"/>
<line x1="645.2" y1="198.2" x2="646.9" y2="194.3" stroke="#4e3d63" stroke-width="1.4"/>
<line x1="646.9" y1="194.3" x2="641.6" y2="195.8" stroke="#4e3d63" stroke-width="1.4"/>
<polygon points="603.3,170.4 641.6,195.8 646.9,194.3 654.5,177.9" fill="#4aa9c2" stroke="#4aa9c2" stroke-width="0.6"/>
<line x1="603.3" y1="170.4" x2="641.6" y2="195.8" stroke="#2e6978" stroke-width="1.4"/>
<line x1="641.6" y1="195.8" x2="646.9" y2="194.3" stroke="#2e6978" stroke-width="1.4"/>
<line x1="646.9" y1="194.3" x2="654.5" y2="177.9" stroke="#2e6978" stroke-width="1.4"/>
<polygon points="232.7,204.1 255.7,191.1 261.4,185.2 250.2,190.4" fill="#4a3a5e" stroke="#4a3a5e" stroke-width="0.6"/>
<line x1="255.7" y1="191.1" x2="261.4" y2="185.2" stroke="#453657" stroke-width="1.4"/>
<line x1="261.4" y1="185.2" x2="250.2" y2="190.4" stroke="#453657" stroke-width="1.4"/>
<line x1="250.2" y1="190.4" x2="232.7" y2="204.1" stroke="#453657" stroke-width="1.4"/>
<polygon points="255.7,191.1 289.1,172.1 261.4,185.2" fill="#2c6473" stroke="#2c6473" stroke-width="0.6"/>
<line x1="289.1" y1="172.1" x2="261.4" y2="185.2" stroke="#285d6b" stroke-width="1.4"/>
<line x1="261.4" y1="185.2" x2="255.7" y2="191.1" stroke="#285d6b" stroke-width="1.4"/>
<polygon points="329.0,159.4 351.5,150.6 348.1,144.6 344.4,145.3" fill="#3b879b" stroke="#3b879b" stroke-width="0.6"/>
<line x1="351.5" y1="150.6" x2="348.1" y2="144.6" stroke="#337587" stroke-width="1.4"/>
<line x1="348.1" y1="144.6" x2="344.4" y2="145.3" stroke="#337587" stroke-width="1.4"/>
<line x1="344.4" y1="145.3" x2="329.0" y2="159.4" stroke="#337587" stroke-width="1.4"/>
<polygon points="351.5,150.6 384.4,137.7 348.1,144.6" fill="#c27637" stroke="#c27637" stroke-width="0.6"/>
<line x1="384.4" y1="137.7" x2="348.1" y2="144.6" stroke="#a86630" stroke-width="1.4"/>
<line x1="348.1" y1="144.6" x2="351.5" y2="150.6" stroke="#a86630" stroke-width="1.4"/>
<polygon points="289.1,172.1 329.0,159.4 344.4,145.3" fill="#347788" stroke="#347788" stroke-width="0.6"/>
<line x1="289.1" y1="172.1" x2="329.0" y2="159.4" stroke="#306e7f" stroke-width="1.4"/>
<line x1="329.0" y1="159.4" x2="344.4" y2="145.3" stroke="#306e7f" stroke-width="1.4"/>
<polygon points="466.4,140.1 520.2,133.4 479.2,124.1" fill="#f49445" stroke="#f49445" stroke-width="0.6"/>
<line x1="520.2" y1="133.4" x2="479.2" y2="124.1" stroke="#975c2b" stroke-width="1.4"/>
<line x1="479.2" y1="124.1" x2="466.4" y2="140.1" stroke="#975c2b" stroke-width="1.4"/>
<polygon points="425.1,135.9 466.4,140.1 479.2,124.1" fill="#e98d42" stroke="#e98d42" stroke-width="0.6"/>
<line x1="425.1" y1="135.9" x2="466.4" y2="140.1" stroke="#965b2b" stroke-width="1.4"/>
<line x1="466.4" y1="140.1" x2="479.2" y2="124.1" stroke="#965b2b" stroke-width="1.4"/>
<polygon points="508.2,150.5 561.6,148.8 520.2,133.4" fill="#f99747" stroke="#f99747" stroke-width="0.6"/>
<line x1="561.6" y1="148.8" x2="520.2" y2="133.4" stroke="#9a5e2c" stroke-width="1.4"/>
<line x1="520.2" y1="133.4" x2="508.2" y2="150.5" stroke="#9a5e2c" stroke-width="1.4"/>
<polygon points="175.3,241.3 181.3,237.4 192.4,228.7" fill="#799245" stroke="#799245" stroke-width="0.6"/>
<line x1="181.3" y1="237.4" x2="192.4" y2="228.7" stroke="#546530" stroke-width="1.4"/>
<line x1="192.4" y1="228.7" x2="175.3" y2="241.3" stroke="#546530" stroke-width="1.4"/>
<polygon points="181.3,237.4 232.7,204.1 194.1,227.4 192.4,228.7" fill="#4a3a5e" stroke="#4a3a5e" stroke-width="0.6"/>
<line x1="232.7" y1="204.1" x2="194.1" y2="227.4" stroke="#453657" stroke-width="1.4"/>
<line x1="194.1" y1="227.4" x2="192.4" y2="228.7" stroke="#453657" stroke-width="1.4"/>
<line x1="192.4" y1="228.7" x2="181.3" y2="237.4" stroke="#453657" stroke-width="1.4"/>
<polygon points="369.6,152.5 425.1,135.9 384.4,137.7" fill="#d8833d" stroke="#d8833d" stroke-width="0.6"/>
<line x1="425.1" y1="135.9" x2="384.4" y2="137.7" stroke="#a0612d" stroke-width="1.4"/>
<line x1="384.4" y1="137.7" x2="369.6" y2="152.5" stroke="#a0612d" stroke-width="1.4"/>
<polygon points="550.4,167.1 603.3,170.4 567.0,151.6 558.8,153.4" fill="#4badc7" stroke="#4badc7" stroke-width="0.6"/>
<line x1="603.3" y1="170.4" x2="567.0" y2="151.6" stroke="#2f6b7b" stroke-width="1.4"/>
<line x1="567.0" y1="151.6" x2="558.8" y2="153.4" stroke="#2f6b7b" stroke-width="1.4"/>
<line x1="558.8" y1="153.4" x2="550.4" y2="167.1" stroke="#2f6b7b" stroke-width="1.4"/>
<polygon points="567.0,151.6 561.6,148.8 558.8,153.4" fill="#f89746" stroke="#f89746" stroke-width="0.6"/>
<line x1="567.0" y1="151.6" x2="561.6" y2="148.8" stroke="#9a5d2c" stroke-width="1.4"/>
<line x1="561.6" y1="148.8" x2="558.8" y2="153.4" stroke="#9a5d2c" stroke-width="1.4"/>
<line x1="558.8" y1="153.4" x2="567.0" y2="151.6" stroke="#9a5d2c" stroke-width="1.4"/>
<polygon points="329.0,159.4 355.7,154.9 351.5,150.6" fill="#3c899d" stroke="#3c899d" stroke-width="0.6"/>
<line x1="329.0" y1="159.4" x2="355.7" y2="154.9" stroke="#337586" stroke-width="1.4"/>
<line x1="355.7" y1="154.9" x2="351.5" y2="150.6" stroke="#337586" stroke-width="1.4"/>
<polygon points="355.7,154.9 369.6,152.5 384.4,137.7 351.5,150.6" fill="#c47738" stroke="#c47738" stroke-width="0.6"/>
<line x1="355.7" y1="154.9" x2="369.6" y2="152.5" stroke="#a7662f" stroke-width="1.4"/>
<line x1="369.6" y1="152.5" x2="384.4" y2="137.7" stroke="#a7662f" stroke-width="1.4"/>
<line x1="351.5" y1="150.6" x2="355.7" y2="154.9" stroke="#a7662f" stroke-width="1.4"/>
<polygon points="466.4,140.1 508.2,150.5 520.2,133.4" fill="#f49445" stroke="#f49445" stroke-width="0.6"/>
<line x1="466.4" y1="140.1" x2="508.2" y2="150.5" stroke="#975c2b" stroke-width="1.4"/>
<line x1="508.2" y1="150.5" x2="520.2" y2="133.4" stroke="#975c2b" stroke-width="1.4"/>
<polygon points="232.7,204.1 252.3,195.3 255.7,191.1" fill="#4c3b60" stroke="#4c3b60" stroke-width="0.6"/>
<line x1="232.7" y1="204.1" x2="252.3" y2="195.3" stroke="#463759" stroke-width="1.4"/>
<line x1="252.3" y1="195.3" x2="255.7" y2="191.1" stroke="#463759" stroke-width="1.4"/>
<polygon points="252.3,195.3 272.3,186.3 289.1,172.1 255.7,191.1" fill="#2c6675" stroke="#2c6675" stroke-width="0.6"/>
<line x1="252.3" y1="195.3" x2="272.3" y2="186.3" stroke="#295f6d" stroke-width="1.4"/>
<line x1="272.3" y1="186.3" x2="289.1" y2="172.1" stroke="#295f6d" stroke-width="1.4"/>
<line x1="255.7" y1="191.1" x2="252.3" y2="195.3" stroke="#295f6d" stroke-width="1.4"/>
<polygon points="272.3,186.3 329.0,159.4 289.1,172.1" fill="#347789" stroke="#347789" stroke-width="0.6"/>
<line x1="329.0" y1="159.4" x2="289.1" y2="172.1" stroke="#306f7f" stroke-width="1.4"/>
<line x1="289.1" y1="172.1" x2="272.3" y2="186.3" stroke="#306f7f" stroke-width="1.4"/>
<polygon points="637.7,197.0 645.2,198.2 641.6,195.8" fill="#7e63a0" stroke="#7e63a0" stroke-width="0.6"/>
<line x1="645.2" y1="198.2" x2="641.6" y2="195.8" stroke="#4e3d63" stroke-width="1.4"/>
<line x1="641.6" y1="195.8" x2="637.7" y2="197.0" stroke="#4e3d63" stroke-width="1.4"/>
<polygon points="592.9,190.0 637.7,197.0 641.6,195.8 603.3,170.4" fill="#4aaac3" stroke="#4aaac3" stroke-width="0.6"/>
<line x1="637.7" y1="197.0" x2="641.6" y2="195.8" stroke="#2e6979" stroke-width="1.4"/>
<line x1="641.6" y1="195.8" x2="603.3" y2="170.4" stroke="#2e6979" stroke-width="1.4"/>
<line x1="603.3" y1="170.4" x2="592.9" y2="190.0" stroke="#2e6979" stroke-width="1.4"/>
<polygon points="527.9,158.3 550.4,167.1 558.8,153.4" fill="#4badc7" stroke="#4badc7" stroke-width="0.6"/>
<line x1="527.9" y1="158.3" x2="550.4" y2="167.1" stroke="#2f6b7b" stroke-width="1.4"/>
<line x1="550.4" y1="167.1" x2="558.8" y2="153.4" stroke="#2f6b7b" stroke-width="1.4"/>
<line x1="558.8" y1="153.4" x2="527.9" y2="158.3" stroke="#2f6b7b" stroke-width="1.4"/>
<polygon points="508.2,150.5 527.9,158.3 558.8,153.4 561.6,148.8" fill="#f89746" stroke="#f89746" stroke-width="0.6"/>
<line x1="508.2" y1="150.5" x2="527.9" y2="158.3" stroke="#9a5d2c" stroke-width="1.4"/>
<line x1="527.9" y1="158.3" x2="558.8" y2="153.4" stroke="#9a5d2c" stroke-width="1.4"/>
<line x1="558.8" y1="153.4" x2="561.6" y2="148.8" stroke="#9a5d2c" stroke-width="1.4"/>
<polygon points="411.1,151.6 466.4,140.1 425.1,135.9" fill="#ea8e42" stroke="#ea8e42" stroke-width="0.6"/>
<line x1="466.4" y1="140.1" x2="425.1" y2="135.9" stroke="#955b2a" stroke-width="1.4"/>
<line x1="425.1" y1="135.9" x2="411.1" y2="151.6" stroke="#955b2a" stroke-width="1.4"/>
<polygon points="550.4,167.1 592.9,190.0 603.3,170.4" fill="#4bacc6" stroke="#4bacc6" stroke-width="0.6"/>
<line x1="550.4" y1="167.1" x2="592.9" y2="190.0" stroke="#2e6b7b" stroke-width="1.4"/>
<line x1="592.9" y1="190.0" x2="603.3" y2="170.4" stroke="#2e6b7b" stroke-width="1.4"/>
<polygon points="369.6,152.5 411.1,151.6 425.1,135.9" fill="#da853e" stroke="#da853e" stroke-width="0.6"/>
<line x1="369.6" y1="152.5" x2="411.1" y2="151.6" stroke="#9f602d" stroke-width="1.4"/>
<line x1="411.1" y1="151.6" x2="425.1" y2="135.9" stroke="#9f602d" stroke-width="1.4"/>
<polygon points="175.3,241.3 179.9,238.6 181.3,237.4" fill="#799245" stroke="#799245" stroke-width="0.6"/>
<line x1="175.3" y1="241.3" x2="179.9" y2="238.6" stroke="#546530" stroke-width="1.4"/>
<line x1="179.9" y1="238.6" x2="181.3" y2="237.4" stroke="#546530" stroke-width="1.4"/>
<polygon points="179.9,238.6 214.5,218.3 232.7,204.1 181.3,237.4" fill="#4a3a5e" stroke="#4a3a5e" stroke-width="0.6"/>
<line x1="179.9" y1="238.6" x2="214.5" y2="218.3" stroke="#453657" stroke-width="1.4"/>
<line x1="214.5" y1="218.3" x2="232.7" y2="204.1" stroke="#453657" stroke-width="1.4"/>
<line x1="181.3" y1="237.4" x2="179.9" y2="238.6" stroke="#453657" stroke-width="1.4"/>
<polygon points="613.4,204.1 635.5,219.2 645.2,198.2 637.7,197.0" fill="#7d629e" stroke="#7d629e" stroke-width="0.6"/>
<line x1="613.4" y1="204.1" x2="635.5" y2="219.2" stroke="#4e3d62" stroke-width="1.4"/>
<line x1="635.5" y1="219.2" x2="645.2" y2="198.2" stroke="#4e3d62" stroke-width="1.4"/>
<line x1="637.7" y1="197.0" x2="613.4" y2="204.1" stroke="#4e3d62" stroke-width="1.4"/>
<polygon points="592.9,190.0 613.4,204.1 637.7,197.0" fill="#49a8c2" stroke="#49a8c2" stroke-width="0.6"/>
<line x1="592.9" y1="190.0" x2="613.4" y2="204.1" stroke="#2d6878" stroke-width="1.4"/>
<line x1="613.4" y1="204.1" x2="637.7" y2="197.0" stroke="#2d6878" stroke-width="1.4"/>
<polygon points="214.5,218.3 248.2,199.6 252.3,195.3 232.7,204.1" fill="#4c3b60" stroke="#4c3b60" stroke-width="0.6"/>
<line x1="248.2" y1="199.6" x2="252.3" y2="195.3" stroke="#473759" stroke-width="1.4"/>
<line x1="252.3" y1="195.3" x2="232.7" y2="204.1" stroke="#473759" stroke-width="1.4"/>
<line x1="232.7" y1="204.1" x2="214.5" y2="218.3" stroke="#473759" stroke-width="1.4"/>
<polygon points="248.2,199.6 272.3,186.3 252.3,195.3" fill="#2c6675" stroke="#2c6675" stroke-width="0.6"/>
<line x1="272.3" y1="186.3" x2="252.3" y2="195.3" stroke="#295f6d" stroke-width="1.4"/>
<line x1="252.3" y1="195.3" x2="248.2" y2="199.6" stroke="#295f6d" stroke-width="1.4"/>
<polygon points="312.8,174.2 357.4,157.2 355.7,154.9 329.0,159.4" fill="#3c899e" stroke="#3c899e" stroke-width="0.6"/>
<line x1="357.4" y1="157.2" x2="355.7" y2="154.9" stroke="#337486" stroke-width="1.4"/>
<line x1="355.7" y1="154.9" x2="329.0" y2="159.4" stroke="#337486" stroke-width="1.4"/>
<line x1="329.0" y1="159.4" x2="312.8" y2="174.2" stroke="#337486" stroke-width="1.4"/>
<polygon points="357.4,157.2 369.6,152.5 355.7,154.9" fill="#c57738" stroke="#c57738" stroke-width="0.6"/>
<line x1="369.6" y1="152.5" x2="355.7" y2="154.9" stroke="#a7662f" stroke-width="1.4"/>
<line x1="355.7" y1="154.9" x2="357.4" y2="157.2" stroke="#a7662f" stroke-width="1.4"/>
<polygon points="272.3,186.3 312.8,174.2 329.0,159.4" fill="#35798b" stroke="#35798b" stroke-width="0.6"/>
<line x1="272.3" y1="186.3" x2="312.8" y2="174.2" stroke="#317081" stroke-width="1.4"/>
<line x1="312.8" y1="174.2" x2="329.0" y2="159.4" stroke="#317081" stroke-width="1.4"/>
<polygon points="453.1,156.8 508.2,150.5 466.4,140.1" fill="#f59545" stroke="#f59545" stroke-width="0.6"/>
<line x1="508.2" y1="150.5" x2="466.4" y2="140.1" stroke="#985c2b" stroke-width="1.4"/>
<line x1="466.4" y1="140.1" x2="453.1" y2="156.8" stroke="#985c2b" stroke-width="1.4"/>
<polygon points="411.1,151.6 453.1,156.8 466.4,140.1" fill="#eb8f43" stroke="#eb8f43" stroke-width="0.6"/>
<line x1="411.1" y1="151.6" x2="453.1" y2="156.8" stroke="#955a2a" stroke-width="1.4"/>
<line x1="453.1" y1="156.8" x2="466.4" y2="140.1" stroke="#955a2a" stroke-width="1.4"/>
<polygon points="495.7,168.3 550.4,167.1 527.9,158.3 499.3,163.2" fill="#4caec8" stroke="#4caec8" stroke-width="0.6"/>
<line x1="550.4" y1="167.1" x2="527.9" y2="158.3" stroke="#2f6c7c" stroke-width="1.4"/>
<line x1="527.9" y1="158.3" x2="499.3" y2="163.2" stroke="#2f6c7c" stroke-width="1.4"/>
<line x1="499.3" y1="163.2" x2="495.7" y2="168.3" stroke="#2f6c7c" stroke-width="1.4"/>
<polygon points="527.9,158.3 508.2,150.5 499.3,163.2" fill="#f99747" stroke="#f99747" stroke-width="0.6"/>
<line x1="527.9" y1="158.3" x2="508.2" y2="150.5" stroke="#9a5e2c" stroke-width="1.4"/>
<line x1="508.2" y1="150.5" x2="499.3" y2="163.2" stroke="#9a5e2c" stroke-width="1.4"/>
<line x1="499.3" y1="163.2" x2="527.9" y2="158.3" stroke="#9a5e2c" stroke-width="1.4"/>
<polygon points="155.6,255.7 168.8,247.4 179.9,238.6 175.3,241.3" fill="#799245" stroke="#799245" stroke-width="0.6"/>
<line x1="168.8" y1="247.4" x2="179.9" y2="238.6" stroke="#546530" stroke-width="1.4"/>
<line x1="179.9" y1="238.6" x2="175.3" y2="241.3" stroke="#546530" stroke-width="1.4"/>
<line x1="175.3" y1="241.3" x2="155.6" y2="255.7" stroke="#546530" stroke-width="1.4"/>
<polygon points="168.8,247.4 214.5,218.3 179.9,238.6" fill="#4a3a5e" stroke="#4a3a5e" stroke-width="0.6"/>
<line x1="214.5" y1="218.3" x2="179.9" y2="238.6" stroke="#453657" stroke-width="1.4"/>
<line x1="179.9" y1="238.6" x2="168.8" y2="247.4" stroke="#453657" stroke-width="1.4"/>
<polygon points="354.2,168.0 370.5,163.3 361.5,160.7" fill="#4299b0" stroke="#4299b0" stroke-width="0.6"/>
<line x1="370.5" y1="163.3" x2="361.5" y2="160.7" stroke="#306e7f" stroke-width="1.4"/>
<line x1="361.5" y1="160.7" x2="354.2" y2="168.0" stroke="#306e7f" stroke-width="1.4"/>
<polygon points="370.5,163.3 411.1,151.6 369.6,152.5 361.5,160.7" fill="#db853e" stroke="#db853e" stroke-width="0.6"/>
<line x1="411.1" y1="151.6" x2="369.6" y2="152.5" stroke="#9e602d" stroke-width="1.4"/>
<line x1="369.6" y1="152.5" x2="361.5" y2="160.7" stroke="#9e602d" stroke-width="1.4"/>
<line x1="361.5" y1="160.7" x2="370.5" y2="163.3" stroke="#9e602d" stroke-width="1.4"/>
<polygon points="312.8,174.2 354.2,168.0 361.5,160.7 357.4,157.2" fill="#3c8ba0" stroke="#3c8ba0" stroke-width="0.6"/>
<line x1="312.8" y1="174.2" x2="354.2" y2="168.0" stroke="#337486" stroke-width="1.4"/>
<line x1="354.2" y1="168.0" x2="361.5" y2="160.7" stroke="#337486" stroke-width="1.4"/>
<line x1="361.5" y1="160.7" x2="357.4" y2="157.2" stroke="#337486" stroke-width="1.4"/>
<polygon points="361.5,160.7 369.6,152.5 357.4,157.2" fill="#c77938" stroke="#c77938" stroke-width="0.6"/>
<line x1="361.5" y1="160.7" x2="369.6" y2="152.5" stroke="#a7652f" stroke-width="1.4"/>
<line x1="357.4" y1="157.2" x2="361.5" y2="160.7" stroke="#a7652f" stroke-width="1.4"/>
<polygon points="214.5,218.3 243.3,205.9 248.2,199.6" fill="#4d3c62" stroke="#4d3c62" stroke-width="0.6"/>
<line x1="214.5" y1="218.3" x2="243.3" y2="205.9" stroke="#48385b" stroke-width="1.4"/>
<line x1="243.3" y1="205.9" x2="248.2" y2="199.6" stroke="#48385b" stroke-width="1.4"/>
<polygon points="243.3,205.9 254.7,201.0 272.3,186.3 248.2,199.6" fill="#2d6878" stroke="#2d6878" stroke-width="0.6"/>
<line x1="243.3" y1="205.9" x2="254.7" y2="201.0" stroke="#2a616f" stroke-width="1.4"/>
<line x1="254.7" y1="201.0" x2="272.3" y2="186.3" stroke="#2a616f" stroke-width="1.4"/>
<line x1="248.2" y1="199.6" x2="243.3" y2="205.9" stroke="#2a616f" stroke-width="1.4"/>
<polygon points="538.7,186.1 592.9,190.0 550.4,167.1" fill="#4badc7" stroke="#4badc7" stroke-width="0.6"/>
<line x1="592.9" y1="190.0" x2="550.4" y2="167.1" stroke="#2f6b7b" stroke-width="1.4"/>
<line x1="550.4" y1="167.1" x2="538.7" y2="186.1" stroke="#2f6b7b" stroke-width="1.4"/>
<polygon points="482.6,164.8 495.7,168.3 499.3,163.2" fill="#4aaac4" stroke="#4aaac4" stroke-width="0.6"/>
<line x1="482.6" y1="164.8" x2="495.7" y2="168.3" stroke="#2e6a7a" stroke-width="1.4"/>
<line x1="495.7" y1="168.3" x2="499.3" y2="163.2" stroke="#2e6a7a" stroke-width="1.4"/>
<line x1="499.3" y1="163.2" x2="482.6" y2="164.8" stroke="#2e6a7a" stroke-width="1.4"/>
<polygon points="453.1,156.8 482.6,164.8 499.3,163.2 508.2,150.5" fill="#f59545" stroke="#f59545" stroke-width="0.6"/>
<line x1="453.1" y1="156.8" x2="482.6" y2="164.8" stroke="#985c2b" stroke-width="1.4"/>
<line x1="482.6" y1="164.8" x2="499.3" y2="163.2" stroke="#985c2b" stroke-width="1.4"/>
<line x1="499.3" y1="163.2" x2="508.2" y2="150.5" stroke="#985c2b" stroke-width="1.4"/>
<polygon points="254.7,201.0 312.8,174.2 272.3,186.3" fill="#35798c" stroke="#35798c" stroke-width="0.6"/>
<line x1="312.8" y1="174.2" x2="272.3" y2="186.3" stroke="#317182" stroke-width="1.4"/>
<line x1="272.3" y1="186.3" x2="254.7" y2="201.0" stroke="#317182" stroke-width="1.4"/>
<polygon points="589.2,211.6 635.5,219.2 613.4,204.1" fill="#7e629f" stroke="#7e629f" stroke-width="0.6"/>
<line x1="635.5" y1="219.2" x2="613.4" y2="204.1" stroke="#4e3d63" stroke-width="1.4"/>
<line x1="613.4" y1="204.1" x2="589.2" y2="211.6" stroke="#4e3d63" stroke-width="1.4"/>
<polygon points="582.0,210.4 589.2,211.6 613.4,204.1 592.9,190.0" fill="#4aa9c3" stroke="#4aa9c3" stroke-width="0.6"/>
<line x1="589.2" y1="211.6" x2="613.4" y2="204.1" stroke="#2e6979" stroke-width="1.4"/>
<line x1="613.4" y1="204.1" x2="592.9" y2="190.0" stroke="#2e6979" stroke-width="1.4"/>
<line x1="592.9" y1="190.0" x2="582.0" y2="210.4" stroke="#2e6979" stroke-width="1.4"/>
<polygon points="495.7,168.3 538.7,186.1 550.4,167.1" fill="#4badc7" stroke="#4badc7" stroke-width="0.6"/>
<line x1="495.7" y1="168.3" x2="538.7" y2="186.1" stroke="#2f6b7b" stroke-width="1.4"/>
<line x1="538.7" y1="186.1" x2="550.4" y2="167.1" stroke="#2f6b7b" stroke-width="1.4"/>
<polygon points="396.4,168.0 453.1,156.8 411.1,151.6" fill="#ec8f43" stroke="#ec8f43" stroke-width="0.6"/>
<line x1="453.1" y1="156.8" x2="411.1" y2="151.6" stroke="#945a2a" stroke-width="1.4"/>
<line x1="411.1" y1="151.6" x2="396.4" y2="168.0" stroke="#945a2a" stroke-width="1.4"/>
<polygon points="155.6,255.7 165.8,250.0 168.8,247.4" fill="#799245" stroke="#799245" stroke-width="0.6"/>
<line x1="155.6" y1="255.7" x2="165.8" y2="250.0" stroke="#546530" stroke-width="1.4"/>
<line x1="165.8" y1="250.0" x2="168.8" y2="247.4" stroke="#546530" stroke-width="1.4"/>
<polygon points="165.8,250.0 195.4,233.2 214.5,218.3 168.8,247.4" fill="#4a3a5e" stroke="#4a3a5e" stroke-width="0.6"/>
<line x1="165.8" y1="250.0" x2="195.4" y2="233.2" stroke="#453657" stroke-width="1.4"/>
<line x1="195.4" y1="233.2" x2="214.5" y2="218.3" stroke="#453657" stroke-width="1.4"/>
<line x1="168.8" y1="247.4" x2="165.8" y2="250.0" stroke="#453657" stroke-width="1.4"/>
<polygon points="538.7,186.1 582.0,210.4 592.9,190.0" fill="#4bacc6" stroke="#4bacc6" stroke-width="0.6"/>
<line x1="538.7" y1="186.1" x2="582.0" y2="210.4" stroke="#2e6a7b" stroke-width="1.4"/>
<line x1="582.0" y1="210.4" x2="592.9" y2="190.0" stroke="#2e6a7b" stroke-width="1.4"/>
<polygon points="354.2,168.0 391.8,168.0 370.5,163.3" fill="#439ab1" stroke="#439ab1" stroke-width="0.6"/>
<line x1="354.2" y1="168.0" x2="391.8" y2="168.0" stroke="#306e7e" stroke-width="1.4"/>
<line x1="391.8" y1="168.0" x2="370.5" y2="163.3" stroke="#306e7e" stroke-width="1.4"/>
<polygon points="391.8,168.0 396.4,168.0 411.1,151.6 370.5,163.3" fill="#dd863f" stroke="#dd863f" stroke-width="0.6"/>
<line x1="391.8" y1="168.0" x2="396.4" y2="168.0" stroke="#9e602d" stroke-width="1.4"/>
<line x1="396.4" y1="168.0" x2="411.1" y2="151.6" stroke="#9e602d" stroke-width="1.4"/>
<line x1="370.5" y1="163.3" x2="391.8" y2="168.0" stroke="#9e602d" stroke-width="1.4"/>
<polygon points="195.4,233.2 241.0,208.5 243.3,205.9 214.5,218.3" fill="#4e3d62" stroke="#4e3d62" stroke-width="0.6"/>
<line x1="241.0" y1="208.5" x2="243.3" y2="205.9" stroke="#48385b" stroke-width="1.4"/>
<line x1="243.3" y1="205.9" x2="214.5" y2="218.3" stroke="#48385b" stroke-width="1.4"/>
<line x1="214.5" y1="218.3" x2="195.4" y2="233.2" stroke="#48385b" stroke-width="1.4"/>
<polygon points="241.0,208.5 254.7,201.0 243.3,205.9" fill="#2d6878" stroke="#2d6878" stroke-width="0.6"/>
<line x1="254.7" y1="201.0" x2="243.3" y2="205.9" stroke="#2a6170" stroke-width="1.4"/>
<line x1="243.3" y1="205.9" x2="241.0" y2="208.5" stroke="#2a6170" stroke-width="1.4"/>
<polygon points="585.3,212.8 625.4,241.2 635.5,219.2 589.2,211.6" fill="#7d629e" stroke="#7d629e" stroke-width="0.6"/>
<line x1="585.3" y1="212.8" x2="625.4" y2="241.2" stroke="#4d3c62" stroke-width="1.4"/>
<line x1="625.4" y1="241.2" x2="635.5" y2="219.2" stroke="#4d3c62" stroke-width="1.4"/>
<line x1="589.2" y1="211.6" x2="585.3" y2="212.8" stroke="#4d3c62" stroke-width="1.4"/>
<polygon points="582.0,210.4 585.3,212.8 589.2,211.6" fill="#49a8c1" stroke="#49a8c1" stroke-width="0.6"/>
<line x1="582.0" y1="210.4" x2="585.3" y2="212.8" stroke="#2d6878" stroke-width="1.4"/>
<line x1="585.3" y1="212.8" x2="589.2" y2="211.6" stroke="#2d6878" stroke-width="1.4"/>
<polygon points="296.0,189.6 354.2,168.0 312.8,174.2" fill="#3d8ba0" stroke="#3d8ba0" stroke-width="0.6"/>
<line x1="354.2" y1="168.0" x2="312.8" y2="174.2" stroke="#337485" stroke-width="1.4"/>
<line x1="312.8" y1="174.2" x2="296.0" y2="189.6" stroke="#337485" stroke-width="1.4"/>
<polygon points="254.7,201.0 296.0,189.6 312.8,174.2" fill="#367b8e" stroke="#367b8e" stroke-width="0.6"/>
<line x1="254.7" y1="201.0" x2="296.0" y2="189.6" stroke="#327384" stroke-width="1.4"/>
<line x1="296.0" y1="189.6" x2="312.8" y2="174.2" stroke="#327384" stroke-width="1.4"/>
<polygon points="439.2,174.2 495.7,168.3 482.6,164.8 443.4,168.9" fill="#4babc5" stroke="#4babc5" stroke-width="0.6"/>
<line x1="495.7" y1="168.3" x2="482.6" y2="164.8" stroke="#2e6a7a" stroke-width="1.4"/>
<line x1="482.6" y1="164.8" x2="443.4" y2="168.9" stroke="#2e6a7a" stroke-width="1.4"/>
<line x1="443.4" y1="168.9" x2="439.2" y2="174.2" stroke="#2e6a7a" stroke-width="1.4"/>
<polygon points="482.6,164.8 453.1,156.8 443.4,168.9" fill="#f69546" stroke="#f69546" stroke-width="0.6"/>
<line x1="482.6" y1="164.8" x2="453.1" y2="156.8" stroke="#985d2b" stroke-width="1.4"/>
<line x1="453.1" y1="156.8" x2="443.4" y2="168.9" stroke="#985d2b" stroke-width="1.4"/>
<line x1="443.4" y1="168.9" x2="482.6" y2="164.8" stroke="#985d2b" stroke-width="1.4"/>
<polygon points="402.0,168.8 439.2,174.2 443.4,168.9" fill="#48a5be" stroke="#48a5be" stroke-width="0.6"/>
<line x1="402.0" y1="168.8" x2="439.2" y2="174.2" stroke="#2d6776" stroke-width="1.4"/>
<line x1="439.2" y1="174.2" x2="443.4" y2="168.9" stroke="#2d6776" stroke-width="1.4"/>
<line x1="443.4" y1="168.9" x2="402.0" y2="168.8" stroke="#2d6776" stroke-width="1.4"/>
<polygon points="396.4,168.0 402.0,168.8 443.4,168.9 453.1,156.8" fill="#ec9043" stroke="#ec9043" stroke-width="0.6"/>
<line x1="396.4" y1="168.0" x2="402.0" y2="168.8" stroke="#935a2a" stroke-width="1.4"/>
<line x1="402.0" y1="168.8" x2="443.4" y2="168.9" stroke="#935a2a" stroke-width="1.4"/>
<line x1="443.4" y1="168.9" x2="453.1" y2="156.8" stroke="#935a2a" stroke-width="1.4"/>
<polygon points="135.1,270.9 156.1,257.8 165.8,250.0 155.6,255.7" fill="#799245" stroke="#799245" stroke-width="0.6"/>
<line x1="156.1" y1="257.8" x2="165.8" y2="250.0" stroke="#546530" stroke-width="1.4"/>
<line x1="165.8" y1="250.0" x2="155.6" y2="255.7" stroke="#546530" stroke-width="1.4"/>
<line x1="155.6" y1="255.7" x2="135.1" y2="270.9" stroke="#546530" stroke-width="1.4"/>
<polygon points="156.1,257.8 195.4,233.2 165.8,250.0" fill="#4a3a5e" stroke="#4a3a5e" stroke-width="0.6"/>
<line x1="195.4" y1="233.2" x2="165.8" y2="250.0" stroke="#453657" stroke-width="1.4"/>
<line x1="165.8" y1="250.0" x2="156.1" y2="257.8" stroke="#453657" stroke-width="1.4"/>
<polygon points="482.6,186.8 538.7,186.1 495.7,168.3" fill="#4caec8" stroke="#4caec8" stroke-width="0.6"/>
<line x1="538.7" y1="186.1" x2="495.7" y2="168.3" stroke="#2f6c7c" stroke-width="1.4"/>
<line x1="495.7" y1="168.3" x2="482.6" y2="186.8" stroke="#2f6c7c" stroke-width="1.4"/>
<polygon points="338.1,184.2 394.3,168.5 391.8,168.0 354.2,168.0" fill="#439ab2" stroke="#439ab2" stroke-width="0.6"/>
<line x1="394.3" y1="168.5" x2="391.8" y2="168.0" stroke="#306d7e" stroke-width="1.4"/>
<line x1="391.8" y1="168.0" x2="354.2" y2="168.0" stroke="#306d7e" stroke-width="1.4"/>
<line x1="354.2" y1="168.0" x2="338.1" y2="184.2" stroke="#306d7e" stroke-width="1.4"/>
<polygon points="394.3,168.5 396.4,168.0 391.8,168.0" fill="#dd873f" stroke="#dd873f" stroke-width="0.6"/>
<line x1="396.4" y1="168.0" x2="391.8" y2="168.0" stroke="#9d5f2d" stroke-width="1.4"/>
<line x1="391.8" y1="168.0" x2="394.3" y2="168.5" stroke="#9d5f2d" stroke-width="1.4"/>
<polygon points="195.4,233.2 234.6,217.2 241.0,208.5" fill="#4f3e64" stroke="#4f3e64" stroke-width="0.6"/>
<line x1="195.4" y1="233.2" x2="234.6" y2="217.2" stroke="#4a3a5d" stroke-width="1.4"/>
<line x1="234.6" y1="217.2" x2="241.0" y2="208.5" stroke="#4a3a5d" stroke-width="1.4"/>
<polygon points="234.6,217.2 236.4,216.4 254.7,201.0 241.0,208.5" fill="#2e6a7a" stroke="#2e6a7a" stroke-width="0.6"/>
<line x1="234.6" y1="217.2" x2="236.4" y2="216.4" stroke="#2b6372" stroke-width="1.4"/>
<line x1="236.4" y1="216.4" x2="254.7" y2="201.0" stroke="#2b6372" stroke-width="1.4"/>
<line x1="241.0" y1="208.5" x2="234.6" y2="217.2" stroke="#2b6372" stroke-width="1.4"/>
<polygon points="296.0,189.6 338.1,184.2 354.2,168.0" fill="#3d8da2" stroke="#3d8da2" stroke-width="0.6"/>
<line x1="296.0" y1="189.6" x2="338.1" y2="184.2" stroke="#327385" stroke-width="1.4"/>
<line x1="338.1" y1="184.2" x2="354.2" y2="168.0" stroke="#327385" stroke-width="1.4"/>
<polygon points="236.4,216.4 296.0,189.6 254.7,201.0" fill="#367b8e" stroke="#367b8e" stroke-width="0.6"/>
<line x1="296.0" y1="189.6" x2="254.7" y2="201.0" stroke="#327384" stroke-width="1.4"/>
<line x1="254.7" y1="201.0" x2="236.4" y2="216.4" stroke="#327384" stroke-width="1.4"/>
<polygon points="526.4,206.0 582.0,210.4 538.7,186.1" fill="#4bacc7" stroke="#4bacc7" stroke-width="0.6"/>
<line x1="582.0" y1="210.4" x2="538.7" y2="186.1" stroke="#2f6b7b" stroke-width="1.4"/>
<line x1="538.7" y1="186.1" x2="526.4" y2="206.0" stroke="#2f6b7b" stroke-width="1.4"/>
<polygon points="439.2,174.2 482.6,186.8 495.7,168.3" fill="#4babc5" stroke="#4babc5" stroke-width="0.6"/>
<line x1="439.2" y1="174.2" x2="482.6" y2="186.8" stroke="#2e6a7a" stroke-width="1.4"/>
<line x1="482.6" y1="186.8" x2="495.7" y2="168.3" stroke="#2e6a7a" stroke-width="1.4"/>
<polygon points="570.6,231.8 625.4,241.2 585.3,212.8 579.7,214.6" fill="#7d629f" stroke="#7d629f" stroke-width="0.6"/>
<line x1="625.4" y1="241.2" x2="585.3" y2="212.8" stroke="#4e3d62" stroke-width="1.4"/>
<line x1="585.3" y1="212.8" x2="579.7" y2="214.6" stroke="#4e3d62" stroke-width="1.4"/>
<line x1="579.7" y1="214.6" x2="570.6" y2="231.8" stroke="#4e3d62" stroke-width="1.4"/>
<polygon points="585.3,212.8 582.0,210.4 579.7,214.6" fill="#49a8c2" stroke="#49a8c2" stroke-width="0.6"/>
<line x1="585.3" y1="212.8" x2="582.0" y2="210.4" stroke="#2e6878" stroke-width="1.4"/>
<line x1="582.0" y1="210.4" x2="579.7" y2="214.6" stroke="#2e6878" stroke-width="1.4"/>
<line x1="579.7" y1="214.6" x2="585.3" y2="212.8" stroke="#2e6878" stroke-width="1.4"/>
<polygon points="482.6,186.8 526.4,206.0 538.7,186.1" fill="#4badc7" stroke="#4badc7" stroke-width="0.6"/>
<line x1="482.6" y1="186.8" x2="526.4" y2="206.0" stroke="#2f6b7c" stroke-width="1.4"/>
<line x1="526.4" y1="206.0" x2="538.7" y2="186.1" stroke="#2f6b7c" stroke-width="1.4"/>
<polygon points="381.1,185.0 439.2,174.2 402.0,168.8 395.6,168.8" fill="#48a5be" stroke="#48a5be" stroke-width="0.6"/>
<line x1="439.2" y1="174.2" x2="402.0" y2="168.8" stroke="#2d6776" stroke-width="1.4"/>
<line x1="402.0" y1="168.8" x2="395.6" y2="168.8" stroke="#2d6776" stroke-width="1.4"/>
<line x1="395.6" y1="168.8" x2="381.1" y2="185.0" stroke="#2d6776" stroke-width="1.4"/>
<polygon points="402.0,168.8 396.4,168.0 395.6,168.8" fill="#ed9043" stroke="#ed9043" stroke-width="0.6"/>
<line x1="402.0" y1="168.8" x2="396.4" y2="168.0" stroke="#93592a" stroke-width="1.4"/>
<line x1="396.4" y1="168.0" x2="395.6" y2="168.8" stroke="#93592a" stroke-width="1.4"/>
<line x1="395.6" y1="168.8" x2="402.0" y2="168.8" stroke="#93592a" stroke-width="1.4"/>
<polygon points="135.1,270.9 151.3,262.0 156.1,257.8" fill="#799245" stroke="#799245" stroke-width="0.6"/>
<line x1="135.1" y1="270.9" x2="151.3" y2="262.0" stroke="#546530" stroke-width="1.4"/>
<line x1="151.3" y1="262.0" x2="156.1" y2="257.8" stroke="#546530" stroke-width="1.4"/>
<polygon points="151.3,262.0 175.5,248.8 195.4,233.2 156.1,257.8" fill="#4a3a5e" stroke="#4a3a5e" stroke-width="0.6"/>
<line x1="151.3" y1="262.0" x2="175.5" y2="248.8" stroke="#453657" stroke-width="1.4"/>
<line x1="175.5" y1="248.8" x2="195.4" y2="233.2" stroke="#453657" stroke-width="1.4"/>
<line x1="156.1" y1="257.8" x2="151.3" y2="262.0" stroke="#453657" stroke-width="1.4"/>
<polygon points="338.1,184.2 381.1,185.0 395.6,168.8 394.3,168.5" fill="#449bb3" stroke="#449bb3" stroke-width="0.6"/>
<line x1="338.1" y1="184.2" x2="381.1" y2="185.0" stroke="#2f6d7d" stroke-width="1.4"/>
<line x1="381.1" y1="185.0" x2="395.6" y2="168.8" stroke="#2f6d7d" stroke-width="1.4"/>
<line x1="395.6" y1="168.8" x2="394.3" y2="168.5" stroke="#2f6d7d" stroke-width="1.4"/>
<polygon points="395.6,168.8 396.4,168.0 394.3,168.5" fill="#df873f" stroke="#df873f" stroke-width="0.6"/>
<line x1="395.6" y1="168.8" x2="396.4" y2="168.0" stroke="#9c5f2c" stroke-width="1.4"/>
<line x1="394.3" y1="168.5" x2="395.6" y2="168.8" stroke="#9c5f2c" stroke-width="1.4"/>
<polygon points="553.2,221.6 570.6,231.8 579.7,214.6" fill="#8064a1" stroke="#8064a1" stroke-width="0.6"/>
<line x1="553.2" y1="221.6" x2="570.6" y2="231.8" stroke="#4f3e64" stroke-width="1.4"/>
<line x1="570.6" y1="231.8" x2="579.7" y2="214.6" stroke="#4f3e64" stroke-width="1.4"/>
<line x1="579.7" y1="214.6" x2="553.2" y2="221.6" stroke="#4f3e64" stroke-width="1.4"/>
<polygon points="526.4,206.0 553.2,221.6 579.7,214.6 582.0,210.4" fill="#4babc5" stroke="#4babc5" stroke-width="0.6"/>
<line x1="526.4" y1="206.0" x2="553.2" y2="221.6" stroke="#2e6a7a" stroke-width="1.4"/>
<line x1="553.2" y1="221.6" x2="579.7" y2="214.6" stroke="#2e6a7a" stroke-width="1.4"/>
<line x1="579.7" y1="214.6" x2="582.0" y2="210.4" stroke="#2e6a7a" stroke-width="1.4"/>
<polygon points="175.5,248.8 234.2,217.6 234.6,217.2 195.4,233.2" fill="#4f3e64" stroke="#4f3e64" stroke-width="0.6"/>
<line x1="234.2" y1="217.6" x2="234.6" y2="217.2" stroke="#4a3a5d" stroke-width="1.4"/>
<line x1="234.6" y1="217.2" x2="195.4" y2="233.2" stroke="#4a3a5d" stroke-width="1.4"/>
<line x1="195.4" y1="233.2" x2="175.5" y2="248.8" stroke="#4a3a5d" stroke-width="1.4"/>
<polygon points="234.2,217.6 236.4,216.4 234.6,217.2" fill="#2e6b7b" stroke="#2e6b7b" stroke-width="0.6"/>
<line x1="236.4" y1="216.4" x2="234.6" y2="217.2" stroke="#2b6372" stroke-width="1.4"/>
<line x1="234.6" y1="217.2" x2="234.2" y2="217.6" stroke="#2b6372" stroke-width="1.4"/>
<polygon points="570.6,231.8 614.9,264.1 625.4,241.2" fill="#7c619d" stroke="#7c619d" stroke-width="0.6"/>
<line x1="570.6" y1="231.8" x2="614.9" y2="264.1" stroke="#4d3c62" stroke-width="1.4"/>
<line x1="614.9" y1="264.1" x2="625.4" y2="241.2" stroke="#4d3c62" stroke-width="1.4"/>
<polygon points="278.4,205.6 338.1,184.2 296.0,189.6" fill="#3e8da3" stroke="#3e8da3" stroke-width="0.6"/>
<line x1="338.1" y1="184.2" x2="296.0" y2="189.6" stroke="#327385" stroke-width="1.4"/>
<line x1="296.0" y1="189.6" x2="278.4" y2="205.6" stroke="#327385" stroke-width="1.4"/>
<polygon points="236.4,216.4 278.4,205.6 296.0,189.6" fill="#377d90" stroke="#377d90" stroke-width="0.6"/>
<line x1="236.4" y1="216.4" x2="278.4" y2="205.6" stroke="#337586" stroke-width="1.4"/>
<line x1="278.4" y1="205.6" x2="296.0" y2="189.6" stroke="#337586" stroke-width="1.4"/>
<polygon points="424.7,192.3 482.6,186.8 439.2,174.2" fill="#4bacc6" stroke="#4bacc6" stroke-width="0.6"/>
<line x1="482.6" y1="186.8" x2="439.2" y2="174.2" stroke="#2e6b7b" stroke-width="1.4"/>
<line x1="439.2" y1="174.2" x2="424.7" y2="192.3" stroke="#2e6b7b" stroke-width="1.4"/>
<polygon points="113.6,286.7 143.2,268.5 151.3,262.0 135.1,270.9" fill="#799245" stroke="#799245" stroke-width="0.6"/>
<line x1="143.2" y1="268.5" x2="151.3" y2="262.0" stroke="#546530" stroke-width="1.4"/>
<line x1="151.3" y1="262.0" x2="135.1" y2="270.9" stroke="#546530" stroke-width="1.4"/>
<line x1="135.1" y1="270.9" x2="113.6" y2="286.7" stroke="#546530" stroke-width="1.4"/>
<polygon points="143.2,268.5 175.5,248.8 151.3,262.0" fill="#4a3a5e" stroke="#4a3a5e" stroke-width="0.6"/>
<line x1="175.5" y1="248.8" x2="151.3" y2="262.0" stroke="#453657" stroke-width="1.4"/>
<line x1="151.3" y1="262.0" x2="143.2" y2="268.5" stroke="#453657" stroke-width="1.4"/>
<polygon points="381.1,185.0 424.7,192.3 439.2,174.2" fill="#48a6bf" stroke="#48a6bf" stroke-width="0.6"/>
<line x1="381.1" y1="185.0" x2="424.7" y2="192.3" stroke="#2d6776" stroke-width="1.4"/>
<line x1="424.7" y1="192.3" x2="439.2" y2="174.2" stroke="#2d6776" stroke-width="1.4"/>
<polygon points="469.0,206.2 526.4,206.0 482.6,186.8" fill="#4caec8" stroke="#4caec8" stroke-width="0.6"/>
<line x1="526.4" y1="206.0" x2="482.6" y2="186.8" stroke="#2f6c7c" stroke-width="1.4"/>
<line x1="482.6" y1="186.8" x2="469.0" y2="206.2" stroke="#2f6c7c" stroke-width="1.4"/>
<polygon points="321.3,201.1 381.1,185.0 338.1,184.2" fill="#449cb3" stroke="#449cb3" stroke-width="0.6"/>
<line x1="381.1" y1="185.0" x2="338.1" y2="184.2" stroke="#2f6c7d" stroke-width="1.4"/>
<line x1="338.1" y1="184.2" x2="321.3" y2="201.1" stroke="#2f6c7d" stroke-width="1.4"/>
<polygon points="175.5,248.8 217.2,232.5 233.1,219.2 234.2,217.6" fill="#513f66" stroke="#513f66" stroke-width="0.6"/>
<line x1="175.5" y1="248.8" x2="217.2" y2="232.5" stroke="#4b3b5f" stroke-width="1.4"/>
<line x1="217.2" y1="232.5" x2="233.1" y2="219.2" stroke="#4b3b5f" stroke-width="1.4"/>
<line x1="233.1" y1="219.2" x2="234.2" y2="217.6" stroke="#4b3b5f" stroke-width="1.4"/>
<polygon points="233.1,219.2 236.4,216.4 234.2,217.6" fill="#2f6d7d" stroke="#2f6d7d" stroke-width="0.6"/>
<line x1="233.1" y1="219.2" x2="236.4" y2="216.4" stroke="#2c6574" stroke-width="1.4"/>
<line x1="234.2" y1="217.6" x2="233.1" y2="219.2" stroke="#2c6574" stroke-width="1.4"/>
<polygon points="278.4,205.6 321.3,201.1 338.1,184.2" fill="#3e8fa4" stroke="#3e8fa4" stroke-width="0.6"/>
<line x1="278.4" y1="205.6" x2="321.3" y2="201.1" stroke="#327384" stroke-width="1.4"/>
<line x1="321.3" y1="201.1" x2="338.1" y2="184.2" stroke="#327384" stroke-width="1.4"/>
<polygon points="217.2,232.5 230.5,226.7 233.1,219.2" fill="#5e4976" stroke="#5e4976" stroke-width="0.6"/>
<line x1="230.5" y1="226.7" x2="233.1" y2="219.2" stroke="#57446e" stroke-width="1.4"/>
<line x1="233.1" y1="219.2" x2="217.2" y2="232.5" stroke="#57446e" stroke-width="1.4"/>
<polygon points="230.5,226.7 278.4,205.6 236.4,216.4 233.1,219.2" fill="#377e91" stroke="#377e91" stroke-width="0.6"/>
<line x1="278.4" y1="205.6" x2="236.4" y2="216.4" stroke="#337587" stroke-width="1.4"/>
<line x1="236.4" y1="216.4" x2="233.1" y2="219.2" stroke="#337587" stroke-width="1.4"/>
<line x1="233.1" y1="219.2" x2="230.5" y2="226.7" stroke="#337587" stroke-width="1.4"/>
<polygon points="529.9,228.2 570.6,231.8 553.2,221.6" fill="#8064a2" stroke="#8064a2" stroke-width="0.6"/>
<line x1="570.6" y1="231.8" x2="553.2" y2="221.6" stroke="#4f3e65" stroke-width="1.4"/>
<line x1="553.2" y1="221.6" x2="529.9" y2="228.2" stroke="#4f3e65" stroke-width="1.4"/>
<polygon points="513.7,226.8 529.9,228.2 553.2,221.6 526.4,206.0" fill="#4bacc6" stroke="#4bacc6" stroke-width="0.6"/>
<line x1="529.9" y1="228.2" x2="553.2" y2="221.6" stroke="#2f6b7b" stroke-width="1.4"/>
<line x1="553.2" y1="221.6" x2="526.4" y2="206.0" stroke="#2f6b7b" stroke-width="1.4"/>
<line x1="526.4" y1="206.0" x2="513.7" y2="226.8" stroke="#2f6b7b" stroke-width="1.4"/>
<polygon points="424.7,192.3 469.0,206.2 482.6,186.8" fill="#4bacc6" stroke="#4bacc6" stroke-width="0.6"/>
<line x1="424.7" y1="192.3" x2="469.0" y2="206.2" stroke="#2e6a7b" stroke-width="1.4"/>
<line x1="469.0" y1="206.2" x2="482.6" y2="186.8" stroke="#2e6a7b" stroke-width="1.4"/>
<polygon points="558.7,254.0 614.9,264.1 570.6,231.8" fill="#7d629e" stroke="#7d629e" stroke-width="0.6"/>
<line x1="614.9" y1="264.1" x2="570.6" y2="231.8" stroke="#4d3d62" stroke-width="1.4"/>
<line x1="570.6" y1="231.8" x2="558.7" y2="254.0" stroke="#4d3d62" stroke-width="1.4"/>
<polygon points="469.0,206.2 513.7,226.8 526.4,206.0" fill="#4badc7" stroke="#4badc7" stroke-width="0.6"/>
<line x1="469.0" y1="206.2" x2="513.7" y2="226.8" stroke="#2f6b7c" stroke-width="1.4"/>
<line x1="513.7" y1="226.8" x2="526.4" y2="206.0" stroke="#2f6b7c" stroke-width="1.4"/>
<polygon points="113.6,286.7 136.4,274.7 143.2,268.5" fill="#799245" stroke="#799245" stroke-width="0.6"/>
<line x1="113.6" y1="286.7" x2="136.4" y2="274.7" stroke="#546530" stroke-width="1.4"/>
<line x1="136.4" y1="274.7" x2="143.2" y2="268.5" stroke="#546530" stroke-width="1.4"/>
<polygon points="136.4,274.7 154.7,265.0 175.5,248.8 143.2,268.5" fill="#4a3a5e" stroke="#4a3a5e" stroke-width="0.6"/>
<line x1="136.4" y1="274.7" x2="154.7" y2="265.0" stroke="#453657" stroke-width="1.4"/>
<line x1="154.7" y1="265.0" x2="175.5" y2="248.8" stroke="#453657" stroke-width="1.4"/>
<line x1="143.2" y1="268.5" x2="136.4" y2="274.7" stroke="#453657" stroke-width="1.4"/>
<polygon points="365.1,202.9 424.7,192.3 381.1,185.0" fill="#49a6c0" stroke="#49a6c0" stroke-width="0.6"/>
<line x1="424.7" y1="192.3" x2="381.1" y2="185.0" stroke="#2d6777" stroke-width="1.4"/>
<line x1="381.1" y1="185.0" x2="365.1" y2="202.9" stroke="#2d6777" stroke-width="1.4"/>
<polygon points="154.7,265.0 217.2,232.5 175.5,248.8" fill="#513f67" stroke="#513f67" stroke-width="0.6"/>
<line x1="217.2" y1="232.5" x2="175.5" y2="248.8" stroke="#4b3b5f" stroke-width="1.4"/>
<line x1="175.5" y1="248.8" x2="154.7" y2="265.0" stroke="#4b3b5f" stroke-width="1.4"/>
<polygon points="321.3,201.1 365.1,202.9 381.1,185.0" fill="#449db5" stroke="#449db5" stroke-width="0.6"/>
<line x1="321.3" y1="201.1" x2="365.1" y2="202.9" stroke="#2f6c7c" stroke-width="1.4"/>
<line x1="365.1" y1="202.9" x2="381.1" y2="185.0" stroke="#2f6c7c" stroke-width="1.4"/>
<polygon points="520.3,230.8 558.7,254.0 570.6,231.8 529.9,228.2" fill="#7f63a1" stroke="#7f63a1" stroke-width="0.6"/>
<line x1="520.3" y1="230.8" x2="558.7" y2="254.0" stroke="#4f3e64" stroke-width="1.4"/>
<line x1="558.7" y1="254.0" x2="570.6" y2="231.8" stroke="#4f3e64" stroke-width="1.4"/>
<line x1="529.9" y1="228.2" x2="520.3" y2="230.8" stroke="#4f3e64" stroke-width="1.4"/>
<polygon points="513.7,226.8 520.3,230.8 529.9,228.2" fill="#4babc5" stroke="#4babc5" stroke-width="0.6"/>
<line x1="513.7" y1="226.8" x2="520.3" y2="230.8" stroke="#2e6a7a" stroke-width="1.4"/>
<line x1="520.3" y1="230.8" x2="529.9" y2="228.2" stroke="#2e6a7a" stroke-width="1.4"/>
<polygon points="591.6,278.7 603.9,288.0 611.5,271.5" fill="#9ebe5b" stroke="#9ebe5b" stroke-width="0.6"/>
<line x1="591.6" y1="278.7" x2="603.9" y2="288.0" stroke="#5d7035" stroke-width="1.4"/>
<line x1="603.9" y1="288.0" x2="611.5" y2="271.5" stroke="#5d7035" stroke-width="1.4"/>
<line x1="611.5" y1="271.5" x2="591.6" y2="278.7" stroke="#5d7035" stroke-width="1.4"/>
<polygon points="558.7,254.0 591.6,278.7 611.5,271.5 614.9,264.1" fill="#7c619d" stroke="#7c619d" stroke-width="0.6"/>
<line x1="558.7" y1="254.0" x2="591.6" y2="278.7" stroke="#4d3c61" stroke-width="1.4"/>
<line x1="591.6" y1="278.7" x2="611.5" y2="271.5" stroke="#4d3c61" stroke-width="1.4"/>
<line x1="611.5" y1="271.5" x2="614.9" y2="264.1" stroke="#4d3c61" stroke-width="1.4"/>
<polygon points="217.2,232.5 230.2,229.4 230.5,226.7" fill="#5f4a78" stroke="#5f4a78" stroke-width="0.6"/>
<line x1="217.2" y1="232.5" x2="230.2" y2="229.4" stroke="#58456f" stroke-width="1.4"/>
<line x1="230.2" y1="229.4" x2="230.5" y2="226.7" stroke="#58456f" stroke-width="1.4"/>
<polygon points="230.2,229.4 259.9,222.4 278.4,205.6 230.5,226.7" fill="#388093" stroke="#388093" stroke-width="0.6"/>
<line x1="230.2" y1="229.4" x2="259.9" y2="222.4" stroke="#347688" stroke-width="1.4"/>
<line x1="259.9" y1="222.4" x2="278.4" y2="205.6" stroke="#347688" stroke-width="1.4"/>
<line x1="230.5" y1="226.7" x2="230.2" y2="229.4" stroke="#347688" stroke-width="1.4"/>
<polygon points="259.9,222.4 321.3,201.1 278.4,205.6" fill="#3e8fa5" stroke="#3e8fa5" stroke-width="0.6"/>
<line x1="321.3" y1="201.1" x2="278.4" y2="205.6" stroke="#327384" stroke-width="1.4"/>
<line x1="278.4" y1="205.6" x2="259.9" y2="222.4" stroke="#327384" stroke-width="1.4"/>
<polygon points="409.6,211.3 469.0,206.2 424.7,192.3" fill="#4bacc6" stroke="#4bacc6" stroke-width="0.6"/>
<line x1="469.0" y1="206.2" x2="424.7" y2="192.3" stroke="#2f6b7b" stroke-width="1.4"/>
<line x1="424.7" y1="192.3" x2="409.6" y2="211.3" stroke="#2f6b7b" stroke-width="1.4"/>
<polygon points="91.0,303.2 130.2,279.7 136.4,274.7 113.6,286.7" fill="#799245" stroke="#799245" stroke-width="0.6"/>
<line x1="130.2" y1="279.7" x2="136.4" y2="274.7" stroke="#546530" stroke-width="1.4"/>
<line x1="136.4" y1="274.7" x2="113.6" y2="286.7" stroke="#546530" stroke-width="1.4"/>
<line x1="113.6" y1="286.7" x2="91.0" y2="303.2" stroke="#546530" stroke-width="1.4"/>
<polygon points="130.2,279.7 154.7,265.0 136.4,274.7" fill="#4a3a5e" stroke="#4a3a5e" stroke-width="0.6"/>
<line x1="154.7" y1="265.0" x2="136.4" y2="274.7" stroke="#453657" stroke-width="1.4"/>
<line x1="136.4" y1="274.7" x2="130.2" y2="279.7" stroke="#453657" stroke-width="1.4"/>
<polygon points="365.1,202.9 409.6,211.3 424.7,192.3" fill="#49a7c0" stroke="#49a7c0" stroke-width="0.6"/>
<line x1="365.1" y1="202.9" x2="409.6" y2="211.3" stroke="#2d6777" stroke-width="1.4"/>
<line x1="409.6" y1="211.3" x2="424.7" y2="192.3" stroke="#2d6777" stroke-width="1.4"/>
<polygon points="454.7,226.5 513.7,226.8 469.0,206.2" fill="#4caec8" stroke="#4caec8" stroke-width="0.6"/>
<line x1="513.7" y1="226.8" x2="469.0" y2="206.2" stroke="#2f6c7c" stroke-width="1.4"/>
<line x1="469.0" y1="206.2" x2="454.7" y2="226.5" stroke="#2f6c7c" stroke-width="1.4"/>
<polygon points="154.7,265.0 197.1,249.4 217.2,232.5" fill="#534169" stroke="#534169" stroke-width="0.6"/>
<line x1="154.7" y1="265.0" x2="197.1" y2="249.4" stroke="#4d3c61" stroke-width="1.4"/>
<line x1="197.1" y1="249.4" x2="217.2" y2="232.5" stroke="#4d3c61" stroke-width="1.4"/>
<polygon points="303.7,218.7 365.1,202.9 321.3,201.1" fill="#459eb5" stroke="#459eb5" stroke-width="0.6"/>
<line x1="365.1" y1="202.9" x2="321.3" y2="201.1" stroke="#2f6b7c" stroke-width="1.4"/>
<line x1="321.3" y1="201.1" x2="303.7" y2="218.7" stroke="#2f6b7c" stroke-width="1.4"/>
<polygon points="197.1,249.4 228.4,235.9 230.2,229.4 217.2,232.5" fill="#5f4a79" stroke="#5f4a79" stroke-width="0.6"/>
<line x1="228.4" y1="235.9" x2="230.2" y2="229.4" stroke="#58456f" stroke-width="1.4"/>
<line x1="230.2" y1="229.4" x2="217.2" y2="232.5" stroke="#58456f" stroke-width="1.4"/>
<line x1="217.2" y1="232.5" x2="197.1" y2="249.4" stroke="#58456f" stroke-width="1.4"/>
<polygon points="228.4,235.9 259.9,222.4 230.2,229.4" fill="#388093" stroke="#388093" stroke-width="0.6"/>
<line x1="259.9" y1="222.4" x2="230.2" y2="229.4" stroke="#347688" stroke-width="1.4"/>
<line x1="230.2" y1="229.4" x2="228.4" y2="235.9" stroke="#347688" stroke-width="1.4"/>
<polygon points="259.9,222.4 303.7,218.7 321.3,201.1" fill="#3f91a7" stroke="#3f91a7" stroke-width="0.6"/>
<line x1="259.9" y1="222.4" x2="303.7" y2="218.7" stroke="#327283" stroke-width="1.4"/>
<line x1="303.7" y1="218.7" x2="321.3" y2="201.1" stroke="#327283" stroke-width="1.4"/>
<polygon points="500.3,248.4 558.7,254.0 520.3,230.8 509.2,234.1" fill="#8064a2" stroke="#8064a2" stroke-width="0.6"/>
<line x1="558.7" y1="254.0" x2="520.3" y2="230.8" stroke="#4f3e64" stroke-width="1.4"/>
<line x1="520.3" y1="230.8" x2="509.2" y2="234.1" stroke="#4f3e64" stroke-width="1.4"/>
<line x1="509.2" y1="234.1" x2="500.3" y2="248.4" stroke="#4f3e64" stroke-width="1.4"/>
<polygon points="520.3,230.8 513.7,226.8 509.2,234.1" fill="#4bacc6" stroke="#4bacc6" stroke-width="0.6"/>
<line x1="520.3" y1="230.8" x2="513.7" y2="226.8" stroke="#2e6b7b" stroke-width="1.4"/>
<line x1="513.7" y1="226.8" x2="509.2" y2="234.1" stroke="#2e6b7b" stroke-width="1.4"/>
<line x1="509.2" y1="234.1" x2="520.3" y2="230.8" stroke="#2e6b7b" stroke-width="1.4"/>
<polygon points="409.6,211.3 454.7,226.5 469.0,206.2" fill="#4bacc6" stroke="#4bacc6" stroke-width="0.6"/>
<line x1="409.6" y1="211.3" x2="454.7" y2="226.5" stroke="#2f6b7b" stroke-width="1.4"/>
<line x1="454.7" y1="226.5" x2="469.0" y2="206.2" stroke="#2f6b7b" stroke-width="1.4"/>
<polygon points="579.3,283.4 603.9,288.0 591.6,278.7" fill="#9ebf5b" stroke="#9ebf5b" stroke-width="0.6"/>
<line x1="603.9" y1="288.0" x2="591.6" y2="278.7" stroke="#5d7136" stroke-width="1.4"/>
<line x1="591.6" y1="278.7" x2="579.3" y2="283.4" stroke="#5d7136" stroke-width="1.4"/>
<polygon points="546.3,277.3 579.3,283.4 591.6,278.7 558.7,254.0" fill="#7c619e" stroke="#7c619e" stroke-width="0.6"/>
<line x1="579.3" y1="283.4" x2="591.6" y2="278.7" stroke="#4d3c62" stroke-width="1.4"/>
<line x1="591.6" y1="278.7" x2="558.7" y2="254.0" stroke="#4d3c62" stroke-width="1.4"/>
<line x1="558.7" y1="254.0" x2="546.3" y2="277.3" stroke="#4d3c62" stroke-width="1.4"/>
<polygon points="91.0,303.2 121.1,288.0 130.2,279.7" fill="#799245" stroke="#799245" stroke-width="0.6"/>
<line x1="91.0" y1="303.2" x2="121.1" y2="288.0" stroke="#546530" stroke-width="1.4"/>
<line x1="121.1" y1="288.0" x2="130.2" y2="279.7" stroke="#546530" stroke-width="1.4"/>
<polygon points="121.1,288.0 132.9,282.0 154.7,265.0 130.2,279.7" fill="#4a3a5e" stroke="#4a3a5e" stroke-width="0.6"/>
<line x1="121.1" y1="288.0" x2="132.9" y2="282.0" stroke="#453657" stroke-width="1.4"/>
<line x1="132.9" y1="282.0" x2="154.7" y2="265.0" stroke="#453657" stroke-width="1.4"/>
<line x1="130.2" y1="279.7" x2="121.1" y2="288.0" stroke="#453657" stroke-width="1.4"/>
<polygon points="482.9,240.1 500.3,248.4 509.2,234.1" fill="#8165a3" stroke="#8165a3" stroke-width="0.6"/>
<line x1="482.9" y1="240.1" x2="500.3" y2="248.4" stroke="#503e65" stroke-width="1.4"/>
<line x1="500.3" y1="248.4" x2="509.2" y2="234.1" stroke="#503e65" stroke-width="1.4"/>
<line x1="509.2" y1="234.1" x2="482.9" y2="240.1" stroke="#503e65" stroke-width="1.4"/>
<polygon points="454.7,226.5 482.9,240.1 509.2,234.1 513.7,226.8" fill="#4cadc7" stroke="#4cadc7" stroke-width="0.6"/>
<line x1="454.7" y1="226.5" x2="482.9" y2="240.1" stroke="#2f6b7c" stroke-width="1.4"/>
<line x1="482.9" y1="240.1" x2="509.2" y2="234.1" stroke="#2f6b7c" stroke-width="1.4"/>
<line x1="509.2" y1="234.1" x2="513.7" y2="226.8" stroke="#2f6b7c" stroke-width="1.4"/>
<polygon points="348.3,221.6 409.6,211.3 365.1,202.9" fill="#49a8c1" stroke="#49a8c1" stroke-width="0.6"/>
<line x1="409.6" y1="211.3" x2="365.1" y2="202.9" stroke="#2d6878" stroke-width="1.4"/>
<line x1="365.1" y1="202.9" x2="348.3" y2="221.6" stroke="#2d6878" stroke-width="1.4"/>
<polygon points="132.9,282.0 197.1,249.4 154.7,265.0" fill="#534169" stroke="#534169" stroke-width="0.6"/>
<line x1="197.1" y1="249.4" x2="154.7" y2="265.0" stroke="#4d3c61" stroke-width="1.4"/>
<line x1="154.7" y1="265.0" x2="132.9" y2="282.0" stroke="#4d3c61" stroke-width="1.4"/>
<polygon points="303.7,218.7 348.3,221.6 365.1,202.9" fill="#459eb6" stroke="#459eb6" stroke-width="0.6"/>
<line x1="303.7" y1="218.7" x2="348.3" y2="221.6" stroke="#2f6b7b" stroke-width="1.4"/>
<line x1="348.3" y1="221.6" x2="365.1" y2="202.9" stroke="#2f6b7b" stroke-width="1.4"/>
<polygon points="500.3,248.4 546.3,277.3 558.7,254.0" fill="#7f63a1" stroke="#7f63a1" stroke-width="0.6"/>
<line x1="500.3" y1="248.4" x2="546.3" y2="277.3" stroke="#4f3e64" stroke-width="1.4"/>
<line x1="546.3" y1="277.3" x2="558.7" y2="254.0" stroke="#4f3e64" stroke-width="1.4"/>
<polygon points="197.1,249.4 228.3,242.7 228.4,235.9" fill="#614b7a" stroke="#614b7a" stroke-width="0.6"/>
<line x1="197.1" y1="249.4" x2="228.3" y2="242.7" stroke="#58456f" stroke-width="1.4"/>
<line x1="228.3" y1="242.7" x2="228.4" y2="235.9" stroke="#58456f" stroke-width="1.4"/>
<polygon points="228.3,242.7 240.7,240.0 259.9,222.4 228.4,235.9" fill="#398295" stroke="#398295" stroke-width="0.6"/>
<line x1="228.3" y1="242.7" x2="240.7" y2="240.0" stroke="#337688" stroke-width="1.4"/>
<line x1="240.7" y1="240.0" x2="259.9" y2="222.4" stroke="#337688" stroke-width="1.4"/>
<line x1="228.4" y1="235.9" x2="228.3" y2="242.7" stroke="#337688" stroke-width="1.4"/>
<polygon points="240.7,240.0 303.7,218.7 259.9,222.4" fill="#3f91a7" stroke="#3f91a7" stroke-width="0.6"/>
<line x1="303.7" y1="218.7" x2="259.9" y2="222.4" stroke="#327283" stroke-width="1.4"/>
<line x1="259.9" y1="222.4" x2="240.7" y2="240.0" stroke="#327283" stroke-width="1.4"/>
<polygon points="562.4,289.7 592.4,313.0 603.9,288.0 579.3,283.4" fill="#9dbd5a" stroke="#9dbd5a" stroke-width="0.6"/>
<line x1="562.4" y1="289.7" x2="592.4" y2="313.0" stroke="#5d7035" stroke-width="1.4"/>
<line x1="592.4" y1="313.0" x2="603.9" y2="288.0" stroke="#5d7035" stroke-width="1.4"/>
<line x1="579.3" y1="283.4" x2="562.4" y2="289.7" stroke="#5d7035" stroke-width="1.4"/>
<polygon points="546.3,277.3 562.4,289.7 579.3,283.4" fill="#7c609c" stroke="#7c609c" stroke-width="0.6"/>
<line x1="546.3" y1="277.3" x2="562.4" y2="289.7" stroke="#4d3c61" stroke-width="1.4"/>
<line x1="562.4" y1="289.7" x2="579.3" y2="283.4" stroke="#4d3c61" stroke-width="1.4"/>
<polygon points="393.7,231.2 454.7,226.5 409.6,211.3" fill="#4badc7" stroke="#4badc7" stroke-width="0.6"/>
<line x1="454.7" y1="226.5" x2="409.6" y2="211.3" stroke="#2f6b7b" stroke-width="1.4"/>
<line x1="409.6" y1="211.3" x2="393.7" y2="231.2" stroke="#2f6b7b" stroke-width="1.4"/>
<polygon points="348.3,221.6 393.7,231.2 409.6,211.3" fill="#49a8c1" stroke="#49a8c1" stroke-width="0.6"/>
<line x1="348.3" y1="221.6" x2="393.7" y2="231.2" stroke="#2d6878" stroke-width="1.4"/>
<line x1="393.7" y1="231.2" x2="409.6" y2="211.3" stroke="#2d6878" stroke-width="1.4"/>
<polygon points="132.9,282.0 176.1,267.0 197.1,249.4" fill="#54426b" stroke="#54426b" stroke-width="0.6"/>
<line x1="132.9" y1="282.0" x2="176.1" y2="267.0" stroke="#4e3d63" stroke-width="1.4"/>
<line x1="176.1" y1="267.0" x2="197.1" y2="249.4" stroke="#4e3d63" stroke-width="1.4"/>
<polygon points="451.6,247.8 500.3,248.4 482.9,240.1" fill="#8165a4" stroke="#8165a4" stroke-width="0.6"/>
<line x1="500.3" y1="248.4" x2="482.9" y2="240.1" stroke="#503f66" stroke-width="1.4"/>
<line x1="482.9" y1="240.1" x2="451.6" y2="247.8" stroke="#503f66" stroke-width="1.4"/>
<polygon points="439.8,247.7 451.6,247.8 482.9,240.1 454.7,226.5" fill="#4caec8" stroke="#4caec8" stroke-width="0.6"/>
<line x1="451.6" y1="247.8" x2="482.9" y2="240.1" stroke="#2f6c7c" stroke-width="1.4"/>
<line x1="482.9" y1="240.1" x2="454.7" y2="226.5" stroke="#2f6c7c" stroke-width="1.4"/>
<line x1="454.7" y1="226.5" x2="439.8" y2="247.7" stroke="#2f6c7c" stroke-width="1.4"/>
<polygon points="285.3,237.2 348.3,221.6 303.7,218.7" fill="#459fb7" stroke="#459fb7" stroke-width="0.6"/>
<line x1="348.3" y1="221.6" x2="303.7" y2="218.7" stroke="#2e6b7b" stroke-width="1.4"/>
<line x1="303.7" y1="218.7" x2="285.3" y2="237.2" stroke="#2e6b7b" stroke-width="1.4"/>
<polygon points="176.1,267.0 227.8,245.4 228.3,242.7 197.1,249.4" fill="#614c7b" stroke="#614c7b" stroke-width="0.6"/>
<line x1="227.8" y1="245.4" x2="228.3" y2="242.7" stroke="#58456f" stroke-width="1.4"/>
<line x1="228.3" y1="242.7" x2="197.1" y2="249.4" stroke="#58456f" stroke-width="1.4"/>
<line x1="197.1" y1="249.4" x2="176.1" y2="267.0" stroke="#58456f" stroke-width="1.4"/>
<polygon points="227.8,245.4 240.7,240.0 228.3,242.7" fill="#398296" stroke="#398296" stroke-width="0.6"/>
<line x1="240.7" y1="240.0" x2="228.3" y2="242.7" stroke="#337688" stroke-width="1.4"/>
<line x1="228.3" y1="242.7" x2="227.8" y2="245.4" stroke="#337688" stroke-width="1.4"/>
<polygon points="240.7,240.0 285.3,237.2 303.7,218.7" fill="#4093a9" stroke="#4093a9" stroke-width="0.6"/>
<line x1="240.7" y1="240.0" x2="285.3" y2="237.2" stroke="#317182" stroke-width="1.4"/>
<line x1="285.3" y1="237.2" x2="303.7" y2="218.7" stroke="#317182" stroke-width="1.4"/>
<polygon points="486.3,271.1 546.3,277.3 500.3,248.4" fill="#8064a1" stroke="#8064a1" stroke-width="0.6"/>
<line x1="546.3" y1="277.3" x2="500.3" y2="248.4" stroke="#4f3e64" stroke-width="1.4"/>
<line x1="500.3" y1="248.4" x2="486.3" y2="271.1" stroke="#4f3e64" stroke-width="1.4"/>
<polygon points="393.7,231.2 439.8,247.7 454.7,226.5" fill="#4badc7" stroke="#4badc7" stroke-width="0.6"/>
<line x1="393.7" y1="231.2" x2="439.8" y2="247.7" stroke="#2f6b7b" stroke-width="1.4"/>
<line x1="439.8" y1="247.7" x2="454.7" y2="226.5" stroke="#2f6b7b" stroke-width="1.4"/>
<polygon points="533.3,301.6 592.4,313.0 562.4,289.7 533.6,301.0" fill="#9ebe5b" stroke="#9ebe5b" stroke-width="0.6"/>
<line x1="592.4" y1="313.0" x2="562.4" y2="289.7" stroke="#5d7035" stroke-width="1.4"/>
<line x1="562.4" y1="289.7" x2="533.6" y2="301.0" stroke="#5d7035" stroke-width="1.4"/>
<line x1="533.6" y1="301.0" x2="533.3" y2="301.6" stroke="#5d7035" stroke-width="1.4"/>
<polygon points="562.4,289.7 546.3,277.3 533.6,301.0" fill="#7c619d" stroke="#7c619d" stroke-width="0.6"/>
<line x1="562.4" y1="289.7" x2="546.3" y2="277.3" stroke="#4d3c61" stroke-width="1.4"/>
<line x1="546.3" y1="277.3" x2="533.6" y2="301.0" stroke="#4d3c61" stroke-width="1.4"/>
<line x1="533.6" y1="301.0" x2="562.4" y2="289.7" stroke="#4d3c61" stroke-width="1.4"/>
<polygon points="443.8,249.7 486.3,271.1 500.3,248.4 451.6,247.8" fill="#8165a3" stroke="#8165a3" stroke-width="0.6"/>
<line x1="443.8" y1="249.7" x2="486.3" y2="271.1" stroke="#503e65" stroke-width="1.4"/>
<line x1="486.3" y1="271.1" x2="500.3" y2="248.4" stroke="#503e65" stroke-width="1.4"/>
<line x1="451.6" y1="247.8" x2="443.8" y2="249.7" stroke="#503e65" stroke-width="1.4"/>
<polygon points="439.8,247.7 443.8,249.7 451.6,247.8" fill="#4badc7" stroke="#4badc7" stroke-width="0.6"/>
<line x1="439.8" y1="247.7" x2="443.8" y2="249.7" stroke="#2f6b7c" stroke-width="1.4"/>
<line x1="443.8" y1="249.7" x2="451.6" y2="247.8" stroke="#2f6b7c" stroke-width="1.4"/>
<polygon points="330.8,241.1 393.7,231.2 348.3,221.6" fill="#49a9c2" stroke="#49a9c2" stroke-width="0.6"/>
<line x1="393.7" y1="231.2" x2="348.3" y2="221.6" stroke="#2e6878" stroke-width="1.4"/>
<line x1="348.3" y1="221.6" x2="330.8" y2="241.1" stroke="#2e6878" stroke-width="1.4"/>
<polygon points="285.3,237.2 330.8,241.1 348.3,221.6" fill="#46a0b8" stroke="#46a0b8" stroke-width="0.6"/>
<line x1="285.3" y1="237.2" x2="330.8" y2="241.1" stroke="#2e6a7a" stroke-width="1.4"/>
<line x1="330.8" y1="241.1" x2="348.3" y2="221.6" stroke="#2e6a7a" stroke-width="1.4"/>
<polygon points="532.8,301.3 533.3,301.6 533.6,301.0" fill="#a1c25d" stroke="#a1c25d" stroke-width="0.6"/>
<line x1="532.8" y1="301.3" x2="533.3" y2="301.6" stroke="#5f7337" stroke-width="1.4"/>
<line x1="533.3" y1="301.6" x2="533.6" y2="301.0" stroke="#5f7337" stroke-width="1.4"/>
<line x1="533.6" y1="301.0" x2="532.8" y2="301.3" stroke="#5f7337" stroke-width="1.4"/>
<polygon points="486.3,271.1 532.8,301.3 533.6,301.0 546.3,277.3" fill="#7f63a0" stroke="#7f63a0" stroke-width="0.6"/>
<line x1="486.3" y1="271.1" x2="532.8" y2="301.3" stroke="#4f3d63" stroke-width="1.4"/>
<line x1="532.8" y1="301.3" x2="533.6" y2="301.0" stroke="#4f3d63" stroke-width="1.4"/>
<line x1="533.6" y1="301.0" x2="546.3" y2="277.3" stroke="#4f3d63" stroke-width="1.4"/>
<polygon points="176.1,267.0 220.5,258.4 228.2,251.4 227.8,245.4" fill="#624d7c" stroke="#624d7c" stroke-width="0.6"/>
<line x1="176.1" y1="267.0" x2="220.5" y2="258.4" stroke="#58446f" stroke-width="1.4"/>
<line x1="220.5" y1="258.4" x2="228.2" y2="251.4" stroke="#58446f" stroke-width="1.4"/>
<line x1="228.2" y1="251.4" x2="227.8" y2="245.4" stroke="#58446f" stroke-width="1.4"/>
<polygon points="228.2,251.4 240.7,240.0 227.8,245.4" fill="#3a8498" stroke="#3a8498" stroke-width="0.6"/>
<line x1="228.2" y1="251.4" x2="240.7" y2="240.0" stroke="#337687" stroke-width="1.4"/>
<line x1="227.8" y1="245.4" x2="228.2" y2="251.4" stroke="#337687" stroke-width="1.4"/>
<polygon points="220.5,258.4 232.1,254.6 228.2,251.4" fill="#6d568b" stroke="#6d568b" stroke-width="0.6"/>
<line x1="232.1" y1="254.6" x2="228.2" y2="251.4" stroke="#54426a" stroke-width="1.4"/>
<line x1="228.2" y1="251.4" x2="220.5" y2="258.4" stroke="#54426a" stroke-width="1.4"/>
<polygon points="232.1,254.6 285.3,237.2 240.7,240.0 228.2,251.4" fill="#4093a9" stroke="#4093a9" stroke-width="0.6"/>
<line x1="285.3" y1="237.2" x2="240.7" y2="240.0" stroke="#317182" stroke-width="1.4"/>
<line x1="240.7" y1="240.0" x2="228.2" y2="251.4" stroke="#317182" stroke-width="1.4"/>
<line x1="228.2" y1="251.4" x2="232.1" y2="254.6" stroke="#317182" stroke-width="1.4"/>
<polygon points="533.3,301.6 580.4,339.1 592.4,313.0" fill="#9cbd5a" stroke="#9cbd5a" stroke-width="0.6"/>
<line x1="533.3" y1="301.6" x2="580.4" y2="339.1" stroke="#5c6f35" stroke-width="1.4"/>
<line x1="580.4" y1="339.1" x2="592.4" y2="313.0" stroke="#5c6f35" stroke-width="1.4"/>
<polygon points="377.1,252.0 439.8,247.7 393.7,231.2" fill="#4cadc8" stroke="#4cadc8" stroke-width="0.6"/>
<line x1="439.8" y1="247.7" x2="393.7" y2="231.2" stroke="#2f6b7c" stroke-width="1.4"/>
<line x1="393.7" y1="231.2" x2="377.1" y2="252.0" stroke="#2f6b7c" stroke-width="1.4"/>
<polygon points="330.8,241.1 377.1,252.0 393.7,231.2" fill="#4aa9c2" stroke="#4aa9c2" stroke-width="0.6"/>
<line x1="330.8" y1="241.1" x2="377.1" y2="252.0" stroke="#2e6978" stroke-width="1.4"/>
<line x1="377.1" y1="252.0" x2="393.7" y2="231.2" stroke="#2e6978" stroke-width="1.4"/>
<polygon points="424.1,269.8 486.3,271.1 443.8,249.7 437.1,251.4" fill="#8165a4" stroke="#8165a4" stroke-width="0.6"/>
<line x1="486.3" y1="271.1" x2="443.8" y2="249.7" stroke="#503f66" stroke-width="1.4"/>
<line x1="443.8" y1="249.7" x2="437.1" y2="251.4" stroke="#503f66" stroke-width="1.4"/>
<line x1="437.1" y1="251.4" x2="424.1" y2="269.8" stroke="#503f66" stroke-width="1.4"/>
<polygon points="443.8,249.7 439.8,247.7 437.1,251.4" fill="#4caec8" stroke="#4caec8" stroke-width="0.6"/>
<line x1="443.8" y1="249.7" x2="439.8" y2="247.7" stroke="#2f6c7c" stroke-width="1.4"/>
<line x1="439.8" y1="247.7" x2="437.1" y2="251.4" stroke="#2f6c7c" stroke-width="1.4"/>
<line x1="437.1" y1="251.4" x2="443.8" y2="249.7" stroke="#2f6c7c" stroke-width="1.4"/>
<polygon points="265.9,256.6 330.8,241.1 285.3,237.2" fill="#46a1b9" stroke="#46a1b9" stroke-width="0.6"/>
<line x1="330.8" y1="241.1" x2="285.3" y2="237.2" stroke="#2e6a7a" stroke-width="1.4"/>
<line x1="285.3" y1="237.2" x2="265.9" y2="256.6" stroke="#2e6a7a" stroke-width="1.4"/>
<polygon points="220.5,258.4 237.4,257.7 232.1,254.6" fill="#6f568c" stroke="#6f568c" stroke-width="0.6"/>
<line x1="220.5" y1="258.4" x2="237.4" y2="257.7" stroke="#54416a" stroke-width="1.4"/>
<line x1="237.4" y1="257.7" x2="232.1" y2="254.6" stroke="#54416a" stroke-width="1.4"/>
<polygon points="237.4,257.7 265.9,256.6 285.3,237.2 232.1,254.6" fill="#4195ab" stroke="#4195ab" stroke-width="0.6"/>
<line x1="237.4" y1="257.7" x2="265.9" y2="256.6" stroke="#317081" stroke-width="1.4"/>
<line x1="265.9" y1="256.6" x2="285.3" y2="237.2" stroke="#317081" stroke-width="1.4"/>
<line x1="232.1" y1="254.6" x2="237.4" y2="257.7" stroke="#317081" stroke-width="1.4"/>
<polygon points="532.2,301.5 533.3,301.6 532.8,301.3" fill="#a2c35d" stroke="#a2c35d" stroke-width="0.6"/>
<line x1="533.3" y1="301.6" x2="532.8" y2="301.3" stroke="#607337" stroke-width="1.4"/>
<line x1="532.8" y1="301.3" x2="532.2" y2="301.5" stroke="#607337" stroke-width="1.4"/>
<polygon points="471.7,294.9 532.2,301.5 532.8,301.3 486.3,271.1" fill="#7f63a1" stroke="#7f63a1" stroke-width="0.6"/>
<line x1="532.2" y1="301.5" x2="532.8" y2="301.3" stroke="#4f3e64" stroke-width="1.4"/>
<line x1="532.8" y1="301.3" x2="486.3" y2="271.1" stroke="#4f3e64" stroke-width="1.4"/>
<line x1="486.3" y1="271.1" x2="471.7" y2="294.9" stroke="#4f3e64" stroke-width="1.4"/>
<polygon points="395.5,258.9 424.1,269.8 437.1,251.4" fill="#8165a3" stroke="#8165a3" stroke-width="0.6"/>
<line x1="395.5" y1="258.9" x2="424.1" y2="269.8" stroke="#503e65" stroke-width="1.4"/>
<line x1="424.1" y1="269.8" x2="437.1" y2="251.4" stroke="#503e65" stroke-width="1.4"/>
<line x1="437.1" y1="251.4" x2="395.5" y2="258.9" stroke="#503e65" stroke-width="1.4"/>
<polygon points="377.1,252.0 395.5,258.9 437.1,251.4 439.8,247.7" fill="#4badc7" stroke="#4badc7" stroke-width="0.6"/>
<line x1="377.1" y1="252.0" x2="395.5" y2="258.9" stroke="#2f6b7b" stroke-width="1.4"/>
<line x1="395.5" y1="258.9" x2="437.1" y2="251.4" stroke="#2f6b7b" stroke-width="1.4"/>
<line x1="437.1" y1="251.4" x2="439.8" y2="247.7" stroke="#2f6b7b" stroke-width="1.4"/>
<polygon points="519.7,327.1 580.4,339.1 533.3,301.6" fill="#9dbd5a" stroke="#9dbd5a" stroke-width="0.6"/>
<line x1="580.4" y1="339.1" x2="533.3" y2="301.6" stroke="#5d7035" stroke-width="1.4"/>
<line x1="533.3" y1="301.6" x2="519.7" y2="327.1" stroke="#5d7035" stroke-width="1.4"/>
<polygon points="424.1,269.8 471.7,294.9 486.3,271.1" fill="#8165a3" stroke="#8165a3" stroke-width="0.6"/>
<line x1="424.1" y1="269.8" x2="471.7" y2="294.9" stroke="#503e65" stroke-width="1.4"/>
<line x1="471.7" y1="294.9" x2="486.3" y2="271.1" stroke="#503e65" stroke-width="1.4"/>
<polygon points="312.4,261.6 377.1,252.0 330.8,241.1" fill="#4aa9c3" stroke="#4aa9c3" stroke-width="0.6"/>
<line x1="377.1" y1="252.0" x2="330.8" y2="241.1" stroke="#2e6979" stroke-width="1.4"/>
<line x1="330.8" y1="241.1" x2="312.4" y2="261.6" stroke="#2e6979" stroke-width="1.4"/>
<polygon points="265.9,256.6 312.4,261.6 330.8,241.1" fill="#46a1ba" stroke="#46a1ba" stroke-width="0.6"/>
<line x1="265.9" y1="256.6" x2="312.4" y2="261.6" stroke="#2e6979" stroke-width="1.4"/>
<line x1="312.4" y1="261.6" x2="330.8" y2="241.1" stroke="#2e6979" stroke-width="1.4"/>
<polygon points="498.7,313.0 519.7,327.1 533.3,301.6 532.2,301.5" fill="#a1c25c" stroke="#a1c25c" stroke-width="0.6"/>
<line x1="498.7" y1="313.0" x2="519.7" y2="327.1" stroke="#5f7337" stroke-width="1.4"/>
<line x1="519.7" y1="327.1" x2="533.3" y2="301.6" stroke="#5f7337" stroke-width="1.4"/>
<line x1="532.2" y1="301.5" x2="498.7" y2="313.0" stroke="#5f7337" stroke-width="1.4"/>
<polygon points="471.7,294.9 498.7,313.0 532.2,301.5" fill="#7e63a0" stroke="#7e63a0" stroke-width="0.6"/>
<line x1="471.7" y1="294.9" x2="498.7" y2="313.0" stroke="#4e3d63" stroke-width="1.4"/>
<line x1="498.7" y1="313.0" x2="532.2" y2="301.5" stroke="#4e3d63" stroke-width="1.4"/>
<polygon points="564.7,363.9 567.8,366.5 570.1,361.5" fill="#c3514e" stroke="#c3514e" stroke-width="0.6"/>
<line x1="564.7" y1="363.9" x2="567.8" y2="366.5" stroke="#73302e" stroke-width="1.4"/>
<line x1="567.8" y1="366.5" x2="570.1" y2="361.5" stroke="#73302e" stroke-width="1.4"/>
<line x1="570.1" y1="361.5" x2="564.7" y2="363.9" stroke="#73302e" stroke-width="1.4"/>
<polygon points="519.7,327.1 564.7,363.9 570.1,361.5 580.4,339.1" fill="#9cbc59" stroke="#9cbc59" stroke-width="0.6"/>
<line x1="519.7" y1="327.1" x2="564.7" y2="363.9" stroke="#5d7035" stroke-width="1.4"/>
<line x1="564.7" y1="363.9" x2="570.1" y2="361.5" stroke="#5d7035" stroke-width="1.4"/>
<line x1="570.1" y1="361.5" x2="580.4" y2="339.1" stroke="#5d7035" stroke-width="1.4"/>
<polygon points="359.7,273.7 424.1,269.8 395.5,258.9 367.0,264.6" fill="#8165a4" stroke="#8165a4" stroke-width="0.6"/>
<line x1="424.1" y1="269.8" x2="395.5" y2="258.9" stroke="#503f65" stroke-width="1.4"/>
<line x1="395.5" y1="258.9" x2="367.0" y2="264.6" stroke="#503f65" stroke-width="1.4"/>
<line x1="367.0" y1="264.6" x2="359.7" y2="273.7" stroke="#503f65" stroke-width="1.4"/>
<polygon points="395.5,258.9 377.1,252.0 367.0,264.6" fill="#4caec8" stroke="#4caec8" stroke-width="0.6"/>
<line x1="395.5" y1="258.9" x2="377.1" y2="252.0" stroke="#2f6c7c" stroke-width="1.4"/>
<line x1="377.1" y1="252.0" x2="367.0" y2="264.6" stroke="#2f6c7c" stroke-width="1.4"/>
<line x1="367.0" y1="264.6" x2="395.5" y2="258.9" stroke="#2f6c7c" stroke-width="1.4"/>
<polygon points="335.8,267.6 359.7,273.7 367.0,264.6" fill="#7e63a0" stroke="#7e63a0" stroke-width="0.6"/>
<line x1="335.8" y1="267.6" x2="359.7" y2="273.7" stroke="#4e3d63" stroke-width="1.4"/>
<line x1="359.7" y1="273.7" x2="367.0" y2="264.6" stroke="#4e3d63" stroke-width="1.4"/>
<line x1="367.0" y1="264.6" x2="335.8" y2="267.6" stroke="#4e3d63" stroke-width="1.4"/>
<polygon points="312.4,261.6 335.8,267.6 367.0,264.6 377.1,252.0" fill="#4aaac3" stroke="#4aaac3" stroke-width="0.6"/>
<line x1="312.4" y1="261.6" x2="335.8" y2="267.6" stroke="#2e6979" stroke-width="1.4"/>
<line x1="335.8" y1="267.6" x2="367.0" y2="264.6" stroke="#2e6979" stroke-width="1.4"/>
<line x1="367.0" y1="264.6" x2="377.1" y2="252.0" stroke="#2e6979" stroke-width="1.4"/>
<polygon points="407.8,293.1 471.7,294.9 424.1,269.8" fill="#8165a4" stroke="#8165a4" stroke-width="0.6"/>
<line x1="471.7" y1="294.9" x2="424.1" y2="269.8" stroke="#503f65" stroke-width="1.4"/>
<line x1="424.1" y1="269.8" x2="407.8" y2="293.1" stroke="#503f65" stroke-width="1.4"/>
<polygon points="474.4,321.8 519.7,327.1 498.7,313.0" fill="#a1c35d" stroke="#a1c35d" stroke-width="0.6"/>
<line x1="519.7" y1="327.1" x2="498.7" y2="313.0" stroke="#5f7337" stroke-width="1.4"/>
<line x1="498.7" y1="313.0" x2="474.4" y2="321.8" stroke="#5f7337" stroke-width="1.4"/>
<polygon points="456.4,319.8 474.4,321.8 498.7,313.0 471.7,294.9" fill="#7f63a1" stroke="#7f63a1" stroke-width="0.6"/>
<line x1="474.4" y1="321.8" x2="498.7" y2="313.0" stroke="#4f3d64" stroke-width="1.4"/>
<line x1="498.7" y1="313.0" x2="471.7" y2="294.9" stroke="#4f3d64" stroke-width="1.4"/>
<line x1="471.7" y1="294.9" x2="456.4" y2="319.8" stroke="#4f3d64" stroke-width="1.4"/>
<polygon points="359.7,273.7 407.8,293.1 424.1,269.8" fill="#8165a3" stroke="#8165a3" stroke-width="0.6"/>
<line x1="359.7" y1="273.7" x2="407.8" y2="293.1" stroke="#503e65" stroke-width="1.4"/>
<line x1="407.8" y1="293.1" x2="424.1" y2="269.8" stroke="#503e65" stroke-width="1.4"/>
<polygon points="561.9,365.2 567.8,366.5 564.7,363.9" fill="#c4514e" stroke="#c4514e" stroke-width="0.6"/>
<line x1="567.8" y1="366.5" x2="564.7" y2="363.9" stroke="#72302e" stroke-width="1.4"/>
<line x1="564.7" y1="363.9" x2="561.9" y2="365.2" stroke="#72302e" stroke-width="1.4"/>
<polygon points="505.4,353.8 561.9,365.2 564.7,363.9 519.7,327.1" fill="#9cbd5a" stroke="#9cbd5a" stroke-width="0.6"/>
<line x1="561.9" y1="365.2" x2="564.7" y2="363.9" stroke="#5c6f35" stroke-width="1.4"/>
<line x1="564.7" y1="363.9" x2="519.7" y2="327.1" stroke="#5c6f35" stroke-width="1.4"/>
<line x1="519.7" y1="327.1" x2="505.4" y2="353.8" stroke="#5c6f35" stroke-width="1.4"/>
<polygon points="407.8,293.1 456.4,319.8 471.7,294.9" fill="#8165a3" stroke="#8165a3" stroke-width="0.6"/>
<line x1="407.8" y1="293.1" x2="456.4" y2="319.8" stroke="#503e65" stroke-width="1.4"/>
<line x1="456.4" y1="319.8" x2="471.7" y2="294.9" stroke="#503e65" stroke-width="1.4"/>
<polygon points="464.4,325.4 505.4,353.8 519.7,327.1 474.4,321.8" fill="#a0c15c" stroke="#a0c15c" stroke-width="0.6"/>
<line x1="464.4" y1="325.4" x2="505.4" y2="353.8" stroke="#5f7236" stroke-width="1.4"/>
<line x1="505.4" y1="353.8" x2="519.7" y2="327.1" stroke="#5f7236" stroke-width="1.4"/>
<line x1="474.4" y1="321.8" x2="464.4" y2="325.4" stroke="#5f7236" stroke-width="1.4"/>
<polygon points="456.4,319.8 464.4,325.4 474.4,321.8" fill="#7e62a0" stroke="#7e62a0" stroke-width="0.6"/>
<line x1="456.4" y1="319.8" x2="464.4" y2="325.4" stroke="#4e3d63" stroke-width="1.4"/>
<line x1="464.4" y1="325.4" x2="474.4" y2="321.8" stroke="#4e3d63" stroke-width="1.4"/>
<polygon points="534.0,377.8 554.7,395.1 567.8,366.5 561.9,365.2" fill="#c2514e" stroke="#c2514e" stroke-width="0.6"/>
<line x1="534.0" y1="377.8" x2="554.7" y2="395.1" stroke="#73302e" stroke-width="1.4"/>
<line x1="554.7" y1="395.1" x2="567.8" y2="366.5" stroke="#73302e" stroke-width="1.4"/>
<line x1="561.9" y1="365.2" x2="534.0" y2="377.8" stroke="#73302e" stroke-width="1.4"/>
<polygon points="505.4,353.8 534.0,377.8 561.9,365.2" fill="#9bbb59" stroke="#9bbb59" stroke-width="0.6"/>
<line x1="505.4" y1="353.8" x2="534.0" y2="377.8" stroke="#5d7035" stroke-width="1.4"/>
<line x1="534.0" y1="377.8" x2="561.9" y2="365.2" stroke="#5d7035" stroke-width="1.4"/>
</g>
<g id="zlabels">
<text transform="translate(62.4,78.8) scale(1.170,1)" font-family="Liberation Sans, sans-serif" font-size="16" text-anchor="end" fill="#000">5</text>
<text transform="translate(65.0,121.0) scale(1.170,1)" font-family="Liberation Sans, sans-serif" font-size="16" text-anchor="end" fill="#000">4.5</text>
<text transform="translate(68.0,163.9) scale(1.170,1)" font-family="Liberation Sans, sans-serif" font-size="16" text-anchor="end" fill="#000">4</text>
<text transform="translate(69.8,206.8) scale(1.170,1)" font-family="Liberation Sans, sans-serif" font-size="16" text-anchor="end" fill="#000">3.5</text>
<text transform="translate(71.7,249.0) scale(1.170,1)" font-family="Liberation Sans, sans-serif" font-size="16" text-anchor="end" fill="#000">3</text>
<text transform="translate(72.8,292.4) scale(1.170,1)" font-family="Liberation Sans, sans-serif" font-size="16" text-anchor="end" fill="#000">2.5</text>
<text transform="translate(74.7,332.7) scale(1.170,1)" font-family="Liberation Sans, sans-serif" font-size="16" text-anchor="end" fill="#000">2</text>
<text transform="translate(76.5,373.7) scale(1.170,1)" font-family="Liberation Sans, sans-serif" font-size="16" text-anchor="end" fill="#000">1.5</text>
<text transform="translate(78.1,412.9) scale(1.170,1)" font-family="Liberation Sans, sans-serif" font-size="16" text-anchor="end" fill="#000">1</text>
</g><g id="xlabels">
<text transform="translate(95.6,442.0) scale(1.170,1)" font-family="Liberation Sans, sans-serif" font-size="16" text-anchor="middle" fill="#000">-3.2</text>
<text transform="translate(181.3,454.0) scale(1.170,1)" font-family="Liberation Sans, sans-serif" font-size="16" text-anchor="middle" fill="#000">-2.04</text>
<text transform="translate(271.0,466.3) scale(1.170,1)" font-family="Liberation Sans, sans-serif" font-size="16" text-anchor="middle" fill="#000">-0.88</text>
<text transform="translate(359.5,478.0) scale(1.170,1)" font-family="Liberation Sans, sans-serif" font-size="16" text-anchor="middle" fill="#000">0.28</text>
<text transform="translate(455.7,490.3) scale(1.170,1)" font-family="Liberation Sans, sans-serif" font-size="16" text-anchor="middle" fill="#000">1.44</text>
<text transform="translate(553.2,502.1) scale(1.170,1)" font-family="Liberation Sans, sans-serif" font-size="16" text-anchor="middle" fill="#000">2.6</text>
</g><g id="ylabels">
<text transform="translate(587.9,475.5) scale(1.170,1)" font-family="Liberation Sans, sans-serif" font-size="16" text-anchor="middle" fill="#000">-2.5</text>
<text transform="translate(616.8,423.4) scale(1.170,1)" font-family="Liberation Sans, sans-serif" font-size="16" text-anchor="middle" fill="#000">-1</text>
<text transform="translate(653.6,378.8) scale(1.170,1)" font-family="Liberation Sans, sans-serif" font-size="16" text-anchor="middle" fill="#000">0.5</text>
<text transform="translate(672.7,339.8) scale(1.170,1)" font-family="Liberation Sans, sans-serif" font-size="16" text-anchor="middle" fill="#000">2</text>
</g><g id="titles">
<text transform="translate(24.4,239.5) rotate(-90)" font-family="Liberation Serif, serif" font-size="25.8" text-anchor="middle" fill="#000">PWB</text>
<text transform="translate(184.2,509.0) rotate(5.2)" font-family="Liberation Serif, serif" font-size="24.9" fill="#000">PAI (centralized)</text>
<text transform="translate(672.1,421.6) rotate(-64.9)" font-family="Liberation Serif, serif" font-size="24.9" text-anchor="middle" dy="7" fill="#000">SDF (centralized)</text>
</g><g id="legend">
<rect x="784.7" y="84.7" width="10.8" height="10.8" fill="#d99694" stroke="#a66d6b" stroke-width="1"/>
<text transform="translate(801.0,95.7) scale(1.170,1)" font-family="Liberation Sans, sans-serif" font-size="16" text-anchor="start" fill="#000">4.5-5</text>
<rect x="784.7" y="118.9" width="10.8" height="10.8" fill="#a5b5db" stroke="#6f7fa8" stroke-width="1"/>
<text transform="translate(801.0,129.9) scale(1.170,1)" font-family="Liberation Sans, sans-serif" font-size="16" text-anchor="start" fill="#000">4-4.5</text>
<rect x="784.7" y="153.1" width="10.8" height="10.8" fill="#f79646" stroke="#b66d31" stroke-width="1"/>
<text transform="translate(801.0,164.1) scale(1.170,1)" font-family="Liberation Sans, sans-serif" font-size="16" text-anchor="start" fill="#000">3.5-4</text>
<rect x="784.7" y="187.3" width="10.8" height="10.8" fill="#4bacc6" stroke="#357d91" stroke-width="1"/>
<text transform="translate(801.0,198.3) scale(1.170,1)" font-family="Liberation Sans, sans-serif" font-size="16" text-anchor="start" fill="#000">3-3.5</text>
<rect x="784.7" y="221.5" width="10.8" height="10.8" fill="#8064a2" stroke="#5c4776" stroke-width="1"/>
<text transform="translate(801.0,232.5) scale(1.170,1)" font-family="Liberation Sans, sans-serif" font-size="16" text-anchor="start" fill="#000">2.5-3</text>
<rect x="784.7" y="255.7" width="10.8" height="10.8" fill="#9bbb59" stroke="#71893f" stroke-width="1"/>
<text transform="translate(801.0,266.7) scale(1.170,1)" font-family="Liberation Sans, sans-serif" font-size="16" text-anchor="start" fill="#000">2-2.5</text>
<rect x="784.7" y="289.9" width="10.8" height="10.8" fill="#c0504d" stroke="#8c3836" stroke-width="1"/>
<text transform="translate(801.0,300.9) scale(1.170,1)" font-family="Liberation Sans, sans-serif" font-size="16" text-anchor="start" fill="#000">1.5-2</text>
<rect x="784.7" y="324.1" width="10.8" height="10.8" fill="#4f81bd" stroke="#385d8a" stroke-width="1"/>
<text transform="translate(801.0,335.1) scale(1.170,1)" font-family="Liberation Sans, sans-serif" font-size="16" text-anchor="start" fill="#000">1-1.5</text>
</g>
</svg>
</body></html>
